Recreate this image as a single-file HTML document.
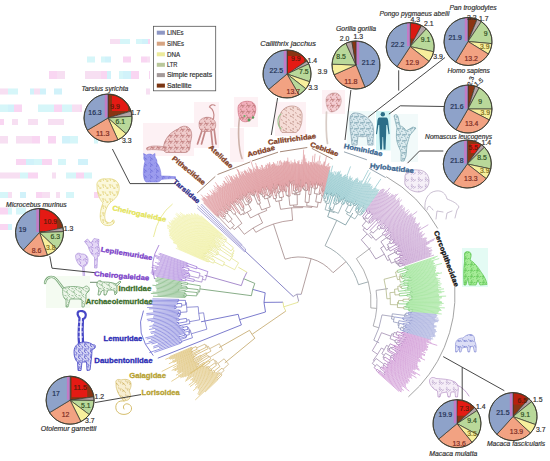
<!DOCTYPE html><html><head><meta charset="utf-8"><style>html,body{margin:0;padding:0;background:#fff;overflow:hidden;}svg{display:block;font-family:"Liberation Sans",sans-serif;}</style></head><body><svg width="550" height="461" viewBox="0 0 550 461" font-family="Liberation Sans, sans-serif">
<rect width="550" height="461" fill="#fff"/>
<g opacity="0.8"><rect x="110" y="39" width="10" height="5" fill="#f6d8f0"/><rect x="120" y="39" width="10" height="5" fill="#ccf4f8"/><rect x="136" y="39" width="6" height="5" fill="#ccf4f8"/><rect x="142" y="39" width="6" height="5" fill="#c6f0fa"/><rect x="148" y="39" width="2" height="5" fill="#f8ccf0"/><rect x="87" y="56.5" width="8" height="6.0" fill="#ccf4f8"/><rect x="101" y="56.5" width="4" height="6.0" fill="#ccf4f8"/><rect x="105" y="56.5" width="6" height="6.0" fill="#c6f0fa"/><rect x="123" y="56.5" width="8" height="6.0" fill="#f8ccf0"/><rect x="141" y="56.5" width="6" height="6.0" fill="#f8ccf0"/><rect x="147" y="56.5" width="3" height="6.0" fill="#f6d8f0"/><rect x="49" y="71" width="8" height="8" fill="#f8ccf0"/><rect x="57" y="71" width="8" height="8" fill="#f6d8f0"/><rect x="85" y="71" width="8" height="8" fill="#f6d8f0"/><rect x="93" y="71" width="8" height="8" fill="#f6d8f0"/><rect x="101" y="71" width="6" height="8" fill="#f8ccf0"/><rect x="107" y="71" width="4" height="8" fill="#c6f0fa"/><rect x="119" y="71" width="4" height="8" fill="#ccf4f8"/><rect x="123" y="71" width="8" height="8" fill="#c6f0fa"/><rect x="131" y="71" width="8" height="8" fill="#f8ccf0"/><rect x="149" y="71" width="1" height="8" fill="#f8ccf0"/><rect x="0" y="88.5" width="8" height="6.0" fill="#f6d8f0"/><rect x="8" y="88.5" width="10" height="6.0" fill="#ccf4f8"/><rect x="30" y="88.5" width="4" height="6.0" fill="#c6f0fa"/><rect x="34" y="88.5" width="6" height="6.0" fill="#f6d8f0"/><rect x="40" y="88.5" width="6" height="6.0" fill="#c6f0fa"/><rect x="54" y="88.5" width="8" height="6.0" fill="#c6f0fa"/><rect x="146" y="88.5" width="4" height="6.0" fill="#f6d8f0"/><rect x="0" y="104.5" width="8" height="7.5" fill="#ccf4f8"/><rect x="8" y="104.5" width="6" height="7.5" fill="#c6f0fa"/><rect x="14" y="104.5" width="8" height="7.5" fill="#f8ccf0"/><rect x="38" y="104.5" width="8" height="7.5" fill="#ccf4f8"/><rect x="46" y="104.5" width="8" height="7.5" fill="#ccf4f8"/><rect x="54" y="104.5" width="8" height="7.5" fill="#f8ccf0"/><rect x="62" y="104.5" width="10" height="7.5" fill="#ccf4f8"/><rect x="72" y="104.5" width="8" height="7.5" fill="#f6d8f0"/><rect x="80" y="104.5" width="2" height="7.5" fill="#f8ccf0"/><rect x="0" y="119" width="4" height="6" fill="#f8ccf0"/><rect x="12" y="119" width="6" height="6" fill="#f6d8f0"/><rect x="28" y="119" width="10" height="6" fill="#f6d8f0"/><rect x="48" y="119" width="8" height="6" fill="#f6d8f0"/><rect x="56" y="119" width="8" height="6" fill="#f6d8f0"/><rect x="0" y="136" width="8" height="7.5" fill="#f6d8f0"/><rect x="16" y="136" width="8" height="7.5" fill="#f6d8f0"/><rect x="24" y="136" width="8" height="7.5" fill="#f6d8f0"/><rect x="32" y="136" width="8" height="7.5" fill="#f8ccf0"/><rect x="48" y="136" width="8" height="7.5" fill="#f8ccf0"/><rect x="62" y="136" width="8" height="7.5" fill="#c6f0fa"/><rect x="70" y="136" width="8" height="7.5" fill="#ccf4f8"/><rect x="94" y="136" width="4" height="7.5" fill="#ccf4f8"/><rect x="16" y="159" width="6" height="6" fill="#f8ccf0"/><rect x="22" y="159" width="4" height="6" fill="#f8ccf0"/><rect x="26" y="159" width="8" height="6" fill="#c6f0fa"/><rect x="34" y="159" width="8" height="6" fill="#ccf4f8"/><rect x="42" y="159" width="10" height="6" fill="#f8ccf0"/><rect x="58" y="159" width="8" height="6" fill="#ccf4f8"/><rect x="78" y="159" width="10" height="6" fill="#c6f0fa"/><rect x="0" y="172.5" width="4" height="6.0" fill="#f6d8f0"/><rect x="4" y="172.5" width="10" height="6.0" fill="#f6d8f0"/><rect x="14" y="172.5" width="6" height="6.0" fill="#f6d8f0"/><rect x="20" y="172.5" width="8" height="6.0" fill="#ccf4f8"/><rect x="28" y="172.5" width="10" height="6.0" fill="#f8ccf0"/><rect x="52" y="172.5" width="4" height="6.0" fill="#f6d8f0"/><rect x="66" y="172.5" width="10" height="6.0" fill="#ccf4f8"/><rect x="76" y="172.5" width="8" height="6.0" fill="#f8ccf0"/><rect x="84" y="172.5" width="8" height="6.0" fill="#ccf4f8"/><rect x="0" y="192" width="8" height="6" fill="#ccf4f8"/><rect x="8" y="192" width="4" height="6" fill="#f6d8f0"/><rect x="20" y="192" width="6" height="6" fill="#c6f0fa"/><rect x="36" y="192" width="6" height="6" fill="#f8ccf0"/><rect x="42" y="192" width="8" height="6" fill="#f6d8f0"/><rect x="56" y="192" width="4" height="6" fill="#f6d8f0"/><rect x="66" y="192" width="8" height="6" fill="#ccf4f8"/><rect x="94" y="192" width="4" height="6" fill="#f8ccf0"/><rect x="98" y="192" width="8" height="6" fill="#f6d8f0"/><rect x="106" y="192" width="4" height="6" fill="#c6f0fa"/><rect x="0" y="207.5" width="8" height="7.0" fill="#f8ccf0"/><rect x="8" y="207.5" width="4" height="7.0" fill="#ccf4f8"/><rect x="16" y="207.5" width="10" height="7.0" fill="#ccf4f8"/><rect x="0" y="224" width="8" height="6" fill="#f8ccf0"/><rect x="8" y="224" width="4" height="6" fill="#c6f0fa"/></g>
<defs><pattern id="pPink" width="6" height="6" patternUnits="userSpaceOnUse"><path d="M2.7,3.4l2.1,-0.2M3,3.5l-1.6,0.1M3.8,4.8l-2,-1M0.5,4.9l1,-2.3M5.9,5.8l0.8,0.6M0.9,0.1l0.1,-2.2M1.1,1.5l-2.3,-0.2M2.6,5.1l0.1,0.7" stroke="#bd7a7a" stroke-width="0.7" fill="none" stroke-linecap="round"/></pattern><pattern id="pBrown" width="7" height="7" patternUnits="userSpaceOnUse"><path d="M3.5,4.6l-0.2,-1.1M7,7l1.7,1M2.2,1.6l-1.1,-2.1M5.4,2.8l1.7,-0.6M6.7,5.9l-2.5,-1.5M6.4,3.3l2.4,-0.5" stroke="#b98a80" stroke-width="0.6" fill="none" stroke-linecap="round"/></pattern><pattern id="pBlue" width="6" height="6" patternUnits="userSpaceOnUse"><path d="M0.4,3.8l1.4,-1.2M0.5,2l2.3,1.3M0.7,1.5l-2,-2.2M4.8,1.1l0.3,-0.3M1.1,4.4l-1.8,0.7" stroke="#6f6fd8" stroke-width="0.7" fill="none" stroke-linecap="round"/></pattern><pattern id="pTeal" width="6" height="6" patternUnits="userSpaceOnUse"><path d="M0.7,2.5l-1.4,-1.2M5.8,4.8l-1,1.9M1.3,2.4l1.8,0.7M0.6,5.9l-1.4,-1.2M4.6,2l-1,-2.1M0.5,3.5l-1.3,0.5M2.2,2.7l2.3,-0.1M3.4,5.2l-1.6,-1.7" stroke="#6f98a8" stroke-width="0.6" fill="none" stroke-linecap="round"/></pattern><pattern id="pLav" width="7" height="7" patternUnits="userSpaceOnUse"><path d="M6.4,5.7l-1.3,-1.6M5.2,6.6l-1.5,2.3M6.2,4.2l-0.4,-2M0.3,6.7l-1.3,1M1.8,5.8l0.5,-1M1.2,5l-2.2,-1.4" stroke="#a58cbc" stroke-width="0.6" fill="none" stroke-linecap="round"/></pattern><pattern id="pGreen" width="6" height="6" patternUnits="userSpaceOnUse"><path d="M3.4,5.1l0.6,-1.1M5.5,1.2l-2.4,-1.2M2.7,0.4l-1.6,-0.7M3.4,0.8l-0.7,2M5.9,3.9l1,0.4M0.8,0.2l-2.4,2.1M4.2,5.8l-2.4,0.7" stroke="#55c04a" stroke-width="0.7" fill="none" stroke-linecap="round"/></pattern><pattern id="pPeri" width="6" height="6" patternUnits="userSpaceOnUse"><path d="M2.9,4.4l-0.9,2.5M0.5,3.3l1.2,2M4.4,4.2l1.5,2.1M2.1,4.1l2,1.9M2.5,4.7l1.8,0.4" stroke="#7c84d2" stroke-width="0.6" fill="none" stroke-linecap="round"/></pattern><pattern id="pYel" width="7" height="7" patternUnits="userSpaceOnUse"><path d="M4.4,2.7l0.4,0.5M0.6,4.5l2.5,1.9M5.1,2.7l1.2,0.4M3.1,5.9l-2.1,1.3M0.2,4.2l-0.1,-1.3M4.9,3.5l0.6,2.1" stroke="#dcc860" stroke-width="0.6" fill="none" stroke-linecap="round"/></pattern><pattern id="pPur" width="6" height="6" patternUnits="userSpaceOnUse"><path d="M1.5,0.1l-1,0.9M1.2,1l2,0.8M2.7,5.4l-0.9,0.8M1.2,2.6l1.5,2.1M5.3,2.3l0.4,-0.9" stroke="#9c78d4" stroke-width="0.6" fill="none" stroke-linecap="round"/></pattern><pattern id="pGrn2" width="7" height="7" patternUnits="userSpaceOnUse"><path d="M1,3.5l1.7,1.7M5,6.7l-1.1,-1.7M3.2,1.9l-1.4,-0.4M4.4,3.5l-0.9,1.7M6.9,3.2l-2.1,-2.3M6.1,0.3l1,0.4" stroke="#5f9a5f" stroke-width="0.6" fill="none" stroke-linecap="round"/></pattern><pattern id="pInd" width="6" height="6" patternUnits="userSpaceOnUse"><path d="M1.9,4.7l-2.4,-1.8M2.7,0.1l1.6,-1.3M0.8,0.3l0.6,-0.3M3.8,3.9l1.5,2.3M4.1,1.2l-0.1,-1.6M0.1,2.8l1.1,-1.6M1.6,2.1l1,0.1" stroke="#3c3cc0" stroke-width="0.7" fill="none" stroke-linecap="round"/></pattern><pattern id="pTan" width="7" height="7" patternUnits="userSpaceOnUse"><path d="M4.3,5.3l-0.5,1.5M6.3,0.6l2.2,1.1M0.9,3.2l0.6,2M2.6,4l1.9,1.5M6.6,3.2l0.8,-1.5M5.1,5.7l0.7,1.1" stroke="#c8a850" stroke-width="0.6" fill="none" stroke-linecap="round"/></pattern></defs>
<rect x="143" y="123" width="51" height="33" fill="#fdf1f4"/>
<rect x="194" y="102" width="25" height="46" fill="#fdf1f4"/>
<rect x="234" y="97" width="24" height="30" fill="#fdf1f4"/>
<rect x="275" y="102" width="31" height="34" fill="#fdf1f4"/>
<rect x="322" y="90" width="23" height="24" fill="#fdf1f4"/>
<rect x="230" y="128" width="14" height="34" fill="#fdf1f4"/>
<path d="M144,156 L143.5,153.5 L146.5,155 C148,153.8 151,153.8 152.5,155 L155,153.5 L155,157 C156.5,159 157,161 157,163 C159.5,166 161,171 161,176 C166,176 171,176.3 175.5,176.8 L175.5,178.6 C170,178.6 165,179 161,179.6 C160.5,181 159,182 157,182 L146,182 C144,180 143,176 143.5,170 C143.8,166 144.5,163 145,161 C143.5,159.5 143.5,158 144,156 Z" fill="#9c9cee" opacity="1"/>
<path d="M144,156 L143.5,153.5 L146.5,155 C148,153.8 151,153.8 152.5,155 L155,153.5 L155,157 C156.5,159 157,161 157,163 C159.5,166 161,171 161,176 C166,176 171,176.3 175.5,176.8 L175.5,178.6 C170,178.6 165,179 161,179.6 C160.5,181 159,182 157,182 L146,182 C144,180 143,176 143.5,170 C143.8,166 144.5,163 145,161 C143.5,159.5 143.5,158 144,156 Z" fill="url(#pBlue)"/>
<path d="M144,156 L143.5,153.5 L146.5,155 C148,153.8 151,153.8 152.5,155 L155,153.5 L155,157 C156.5,159 157,161 157,163 C159.5,166 161,171 161,176 C166,176 171,176.3 175.5,176.8 L175.5,178.6 C170,178.6 165,179 161,179.6 C160.5,181 159,182 157,182 L146,182 C144,180 143,176 143.5,170 C143.8,166 144.5,163 145,161 C143.5,159.5 143.5,158 144,156 Z" fill="none" stroke="#7e7ee0" stroke-width="0.6"/>
<path d="M164,151 C162,143 168,133 178,129 C182,125 189,125 191,131 C193,137 190,141 190,146 C190,150 188,152.5 185,152.5 L166,152.5 Z" fill="#f0cccc" opacity="1"/>
<path d="M164,151 C162,143 168,133 178,129 C182,125 189,125 191,131 C193,137 190,141 190,146 C190,150 188,152.5 185,152.5 L166,152.5 Z" fill="url(#pPink)"/>
<path d="M164,151 C162,143 168,133 178,129 C182,125 189,125 191,131 C193,137 190,141 190,146 C190,150 188,152.5 185,152.5 L166,152.5 Z" fill="none" stroke="#b87c7c" stroke-width="0.7"/>
<path d="M166,147 C159,146 151,145 146.5,148 L147,150 C153,149 159,150 166,150.5 Z" fill="#f0cccc" opacity="1"/>
<path d="M166,147 C159,146 151,145 146.5,148 L147,150 C153,149 159,150 166,150.5 Z" fill="url(#pPink)"/>
<path d="M166,147 C159,146 151,145 146.5,148 L147,150 C153,149 159,150 166,150.5 Z" fill="none" stroke="#b87c7c" stroke-width="0.6"/>
<path d="M202.5,129 L197.5,144 M205.5,130 L201.5,144 M211,130.5 L212.5,145 M214,128 L216,144" fill="none" stroke="#c48888" stroke-width="1.7" stroke-linecap="round"/>
<path d="M199,124 C199,118.5 205,116.5 210,117.5 C214,118.5 216.5,122 215.5,127 C214.5,130.5 211,131.5 208,131.5 L203,131.5 C200,130.5 199,127.5 199,124 Z" fill="#f0cccc" opacity="1"/>
<path d="M199,124 C199,118.5 205,116.5 210,117.5 C214,118.5 216.5,122 215.5,127 C214.5,130.5 211,131.5 208,131.5 L203,131.5 C200,130.5 199,127.5 199,124 Z" fill="url(#pPink)"/>
<path d="M199,124 C199,118.5 205,116.5 210,117.5 C214,118.5 216.5,122 215.5,127 C214.5,130.5 211,131.5 208,131.5 L203,131.5 C200,130.5 199,127.5 199,124 Z" fill="none" stroke="#b87c7c" stroke-width="0.6"/>
<path d="M213.5,119 C215,114 213,109 209.5,107 C210,105 213,104 215,105.5" fill="none" stroke="#c58989" stroke-width="1.2" stroke-linecap="round"/>
<path d="M239.5,118 C238,128 238,148 242,158.5" fill="none" stroke="#cdb2aa" stroke-width="1.6" stroke-linecap="round"/>
<path d="M238,108 C238,102 246,100 252,102 C256,104 257,110 254,116 C251,121 246,123 242,121 C239,119 238,114 238,108 Z" fill="#f2b0bc" opacity="1"/>
<path d="M238,108 C238,102 246,100 252,102 C256,104 257,110 254,116 C251,121 246,123 242,121 C239,119 238,114 238,108 Z" fill="url(#pPink)"/>
<path d="M238,108 C238,102 246,100 252,102 C256,104 257,110 254,116 C251,121 246,123 242,121 C239,119 238,114 238,108 Z" fill="none" stroke="#d07484" stroke-width="0.7"/>
<circle cx="249" cy="120" r="1.5" fill="#5a9a5a"/><circle cx="253" cy="117.5" r="1.2" fill="#5a9a5a"/><circle cx="244.5" cy="116" r="1.1" fill="#6ab06a"/>
<path d="M280,118 C279,112 285,106 292,106 C299,106 303,111 302,118 C302,124 300,130 296,132.5 L282,132.5 C279,129 279,124 280,118 Z" fill="#f5dcd6" opacity="1"/>
<path d="M280,118 C279,112 285,106 292,106 C299,106 303,111 302,118 C302,124 300,130 296,132.5 L282,132.5 C279,129 279,124 280,118 Z" fill="url(#pBrown)"/>
<path d="M280,118 C279,112 285,106 292,106 C299,106 303,111 302,118 C302,124 300,130 296,132.5 L282,132.5 C279,129 279,124 280,118 Z" fill="none" stroke="#bb8c84" stroke-width="0.7"/>
<path d="M281,114 C277,117 277,125 281,129" fill="none" stroke="#9cc08c" stroke-width="1.1" stroke-linecap="round"/>
<path d="M326.5,112 C326,124 326,135 327.5,143.5" fill="none" stroke="#d8ccc6" stroke-width="1.7" stroke-linecap="round"/>
<path d="M326,100 C326,95 331,92.5 336,93 C340,94 342,98 341,103 C340,108 336,112 331,112 C328,111 326,106 326,100 Z" fill="#f4cdd2" opacity="1"/>
<path d="M326,100 C326,95 331,92.5 336,93 C340,94 342,98 341,103 C340,108 336,112 331,112 C328,111 326,106 326,100 Z" fill="url(#pPink)"/>
<path d="M326,100 C326,95 331,92.5 336,93 C340,94 342,98 341,103 C340,108 336,112 331,112 C328,111 326,106 326,100 Z" fill="none" stroke="#c8a0a0" stroke-width="0.6"/>
<rect x="347" y="111" width="28" height="35" fill="#f0fafa"/>
<path d="M350,122 C349,116 352,112 356,113 C361,113 368,117 372,123 C374,128 374,134 373,140 L373,145 L368,145 L367,136 C364,137 361,137 358,136 L357,145 L352,145 L351,135 C350,131 350,127 350,122 Z" fill="#d8e8ee" opacity="1"/>
<path d="M350,122 C349,116 352,112 356,113 C361,113 368,117 372,123 C374,128 374,134 373,140 L373,145 L368,145 L367,136 C364,137 361,137 358,136 L357,145 L352,145 L351,135 C350,131 350,127 350,122 Z" fill="url(#pTeal)"/>
<path d="M350,122 C349,116 352,112 356,113 C361,113 368,117 372,123 C374,128 374,134 373,140 L373,145 L368,145 L367,136 C364,137 361,137 358,136 L357,145 L352,145 L351,135 C350,131 350,127 350,122 Z" fill="none" stroke="#86a2b2" stroke-width="0.7"/>
<rect x="376" y="111" width="14.6" height="39.5" fill="#d4f6f6"/>
<circle cx="382.8" cy="114.2" r="2.2" fill="#2b6e88"/>
<path d="M379.2,117.6 L386.4,117.6 C387.8,118 388.2,120 388.4,123 L389.6,134 L388.6,134.3 L387.2,125 L386.3,125 L386.1,135.5 L385.5,149.5 L383.6,149.5 L383.1,137 L382.5,137 L382,149.5 L380.1,149.5 L379.5,135.5 L379.3,125 L378.4,125 L377,134.3 L376,134 L377.2,123 C377.4,120 377.8,118 379.2,117.6 Z" fill="#2b6e88"/>
<rect x="391" y="114" width="27" height="48" fill="#f2fafa"/>
<path d="M394,116 C395,114 397,114 398,117 L400,126 C402,126 405,128 406,131 L413,127 L416,128 L410,135 C409,138 408,141 407,145 L406,156 L404,161 L401,161 L401,152 L398,145 C396,140 396,134 397,128 Z" fill="#dcecef" opacity="1"/>
<path d="M394,116 C395,114 397,114 398,117 L400,126 C402,126 405,128 406,131 L413,127 L416,128 L410,135 C409,138 408,141 407,145 L406,156 L404,161 L401,161 L401,152 L398,145 C396,140 396,134 397,128 Z" fill="url(#pTeal)"/>
<path d="M394,116 C395,114 397,114 398,117 L400,126 C402,126 405,128 406,131 L413,127 L416,128 L410,135 C409,138 408,141 407,145 L406,156 L404,161 L401,161 L401,152 L398,145 C396,140 396,134 397,128 Z" fill="none" stroke="#79a3ad" stroke-width="0.7"/>
<path d="M405,178 C404,172 411,169 418,170 C425,170 429,175 429,181 C429,187 425,191 419,192 C414,192 409,190 406,186 C404,184 405,181 405,178 Z" fill="#f6f0f8" opacity="1"/>
<path d="M405,178 C404,172 411,169 418,170 C425,170 429,175 429,181 C429,187 425,191 419,192 C414,192 409,190 406,186 C404,184 405,181 405,178 Z" fill="url(#pLav)"/>
<path d="M405,178 C404,172 411,169 418,170 C425,170 429,175 429,181 C429,187 425,191 419,192 C414,192 409,190 406,186 C404,184 405,181 405,178 Z" fill="none" stroke="#b49cc2" stroke-width="0.7"/>
<path d="M425,209 C424,200 428,192 436,191 C442,190 446,194 447,199 C452,201 457,203 459,207 L457,210 L455,218 M452,211 L447,213 L446,219 M443,212 L437,211 L436,219 M433,210 C430,206 428,204 427,210" fill="none" stroke="#bdb0c6" stroke-width="0.8" stroke-linecap="round"/>
<rect x="462" y="248" width="26" height="39" fill="#e4fbf4"/>
<path d="M464.5,254 C464.5,251 470,250.5 471,254 C471.5,256 470.5,258 470,260 C474,262 478,267 481,272 C484,276 486.5,280 487,284.5 L480,285 L478,280 L476,285 L469,285 L468,278 L466,285 L464,285 C463.5,278 463.5,268 464.5,262 Z" fill="#a6ec98" opacity="1"/>
<path d="M464.5,254 C464.5,251 470,250.5 471,254 C471.5,256 470.5,258 470,260 C474,262 478,267 481,272 C484,276 486.5,280 487,284.5 L480,285 L478,280 L476,285 L469,285 L468,278 L466,285 L464,285 C463.5,278 463.5,268 464.5,262 Z" fill="url(#pGreen)"/>
<path d="M464.5,254 C464.5,251 470,250.5 471,254 C471.5,256 470.5,258 470,260 C474,262 478,267 481,272 C484,276 486.5,280 487,284.5 L480,285 L478,280 L476,285 L469,285 L468,278 L466,285 L464,285 C463.5,278 463.5,268 464.5,262 Z" fill="none" stroke="#5cc450" stroke-width="0.7"/>
<path d="M455.5,346 C455,341 458,338 463,338 C465,336 468,334 471,334.5 C474,335 475,338 474.5,341 C476,343 476.5,347 476,352 L474.5,352 L473,346 L470.5,347 L469.5,352 L468,352 L467,347 L462,348 L461,352 L459.5,352 L459.5,348 L457,352 L455.5,352 Z" fill="#dcdef6" opacity="1"/>
<path d="M455.5,346 C455,341 458,338 463,338 C465,336 468,334 471,334.5 C474,335 475,338 474.5,341 C476,343 476.5,347 476,352 L474.5,352 L473,346 L470.5,347 L469.5,352 L468,352 L467,347 L462,348 L461,352 L459.5,352 L459.5,348 L457,352 L455.5,352 Z" fill="url(#pPeri)"/>
<path d="M455.5,346 C455,341 458,338 463,338 C465,336 468,334 471,334.5 C474,335 475,338 474.5,341 C476,343 476.5,347 476,352 L474.5,352 L473,346 L470.5,347 L469.5,352 L468,352 L467,347 L462,348 L461,352 L459.5,352 L459.5,348 L457,352 L455.5,352 Z" fill="none" stroke="#9096d8" stroke-width="0.7"/>
<path d="M429.5,381 C429.5,377.5 433,376.5 436,378.5 C442,379 450,379 455,382 C458,384 459,388 458,392 L457.5,397 L455.5,397 L455,392 L451,392 L450,397 L448,397 L447,392 L441,393 L440,397 L438,397 L437.5,391 C433,389 429.5,385 429.5,381 Z" fill="#f6eef8" opacity="1"/>
<path d="M429.5,381 C429.5,377.5 433,376.5 436,378.5 C442,379 450,379 455,382 C458,384 459,388 458,392 L457.5,397 L455.5,397 L455,392 L451,392 L450,397 L448,397 L447,392 L441,393 L440,397 L438,397 L437.5,391 C433,389 429.5,385 429.5,381 Z" fill="url(#pLav)"/>
<path d="M429.5,381 C429.5,377.5 433,376.5 436,378.5 C442,379 450,379 455,382 C458,384 459,388 458,392 L457.5,397 L455.5,397 L455,392 L451,392 L450,397 L448,397 L447,392 L441,393 L440,397 L438,397 L437.5,391 C433,389 429.5,385 429.5,381 Z" fill="none" stroke="#b996c8" stroke-width="0.7"/>
<path d="M457,385 C462,387 466,391 469,396" fill="none" stroke="#b996c8" stroke-width="0.9" stroke-linecap="round"/>
<path d="M97,186 C96,181 101,178 106,179 C112,178 118,180 119,186 C120,192 117,198 112,201 L109,204 C106,208 104,214 105,219 C106,223 111,224 112,221 C113,219 115,220 114,223 C112,226 105,227 102,223 C99,219 100,210 103,203 C99,199 97,192 97,186 Z" fill="#fbf8dc" opacity="1"/>
<path d="M97,186 C96,181 101,178 106,179 C112,178 118,180 119,186 C120,192 117,198 112,201 L109,204 C106,208 104,214 105,219 C106,223 111,224 112,221 C113,219 115,220 114,223 C112,226 105,227 102,223 C99,219 100,210 103,203 C99,199 97,192 97,186 Z" fill="url(#pYel)"/>
<path d="M97,186 C96,181 101,178 106,179 C112,178 118,180 119,186 C120,192 117,198 112,201 L109,204 C106,208 104,214 105,219 C106,223 111,224 112,221 C113,219 115,220 114,223 C112,226 105,227 102,223 C99,219 100,210 103,203 C99,199 97,192 97,186 Z" fill="none" stroke="#e0d272" stroke-width="0.7"/>
<path d="M84.5,241.5 L87.5,239 L91,243 L94,238.5 L99,239.5 L98.5,245 L100,251 L99,256 L97.5,256.5 L97,268 L94.5,268 L94.5,257 C91.5,255 89,250 88,246 Z" fill="#e4d8f6" opacity="1"/>
<path d="M84.5,241.5 L87.5,239 L91,243 L94,238.5 L99,239.5 L98.5,245 L100,251 L99,256 L97.5,256.5 L97,268 L94.5,268 L94.5,257 C91.5,255 89,250 88,246 Z" fill="url(#pPur)"/>
<path d="M84.5,241.5 L87.5,239 L91,243 L94,238.5 L99,239.5 L98.5,245 L100,251 L99,256 L97.5,256.5 L97,268 L94.5,268 L94.5,257 C91.5,255 89,250 88,246 Z" fill="none" stroke="#a88ad8" stroke-width="0.6"/>
<path d="M75.5,256 C76,253 79,252.5 81,254 C84,253.5 87.5,255 88,259 C88.5,263 86.5,266 84,266.5 L85,281 L83.5,281 L82.5,267 C79,266 77,262 76,259 Z" fill="#e6daf6" opacity="1"/>
<path d="M75.5,256 C76,253 79,252.5 81,254 C84,253.5 87.5,255 88,259 C88.5,263 86.5,266 84,266.5 L85,281 L83.5,281 L82.5,267 C79,266 77,262 76,259 Z" fill="url(#pPur)"/>
<path d="M75.5,256 C76,253 79,252.5 81,254 C84,253.5 87.5,255 88,259 C88.5,263 86.5,266 84,266.5 L85,281 L83.5,281 L82.5,267 C79,266 77,262 76,259 Z" fill="none" stroke="#a88ad8" stroke-width="0.6"/>
<path d="M75.9,282.3 L98.7,282.3" fill="none" stroke="#5f7f5f" stroke-width="0.9" stroke-linecap="round"/>
<rect x="46" y="276" width="44" height="32" fill="#f4fbf1"/>
<path d="M45,283 C46,277 52,275 56,279 C59,282 61,286 64,289" fill="none" stroke="#79a879" stroke-width="2.4" stroke-linecap="round"/>
<path d="M45,283 C46,277 52,275 56,279 C59,282 61,286 64,289" fill="none" stroke="#f4fbf1" stroke-width="0.9" stroke-linecap="round"/>
<path d="M63,288 C68,286 78,286 83,288 L86,286 C88,286 90,288 89,291 L86,294 L86,299 L84,307 L82,307 L82,300 L79,299 L70,299 L68,307 L66,307 L66,300 C63,298 62,293 63,288 Z" fill="#eef6ea" opacity="1"/>
<path d="M63,288 C68,286 78,286 83,288 L86,286 C88,286 90,288 89,291 L86,294 L86,299 L84,307 L82,307 L82,300 L79,299 L70,299 L68,307 L66,307 L66,300 C63,298 62,293 63,288 Z" fill="url(#pGrn2)"/>
<path d="M63,288 C68,286 78,286 83,288 L86,286 C88,286 90,288 89,291 L86,294 L86,299 L84,307 L82,307 L82,300 L79,299 L70,299 L68,307 L66,307 L66,300 C63,298 62,293 63,288 Z" fill="none" stroke="#79a879" stroke-width="0.8"/>
<path d="M97,283 C98,280 101,280 102,282 C106,282 112,282 116,284 L120,281 L121,282 L117,286 L117,293 L115,295 L114,290 L108,290 L106,295 L104,295 L104,290 C102,290 101,292 100,295 L98,295 L99,288 C97,287 96.5,285 97,283 Z" fill="#eef6ea" opacity="1"/>
<path d="M97,283 C98,280 101,280 102,282 C106,282 112,282 116,284 L120,281 L121,282 L117,286 L117,293 L115,295 L114,290 L108,290 L106,295 L104,295 L104,290 C102,290 101,292 100,295 L98,295 L99,288 C97,287 96.5,285 97,283 Z" fill="url(#pGrn2)"/>
<path d="M97,283 C98,280 101,280 102,282 C106,282 112,282 116,284 L120,281 L121,282 L117,286 L117,293 L115,295 L114,290 L108,290 L106,295 L104,295 L104,290 C102,290 101,292 100,295 L98,295 L99,288 C97,287 96.5,285 97,283 Z" fill="none" stroke="#6f9f6f" stroke-width="0.8"/>
<path d="M79,343 C78,335 79,325 79.5,318 C78,316 77,313 78.5,311.5 C80.5,310.5 84.5,311 85.5,313.5 C86.5,316 85,318.5 83,319 C82.5,326 82.5,335 83,342" fill="none" stroke="#4646c6" stroke-width="2.2" stroke-linecap="round"/>
<path d="M78.8,322 l3.6,0 M78.6,327 l3.8,0 M78.6,332 l3.9,0 M78.8,337 l3.8,0" fill="none" stroke="#ffffff" stroke-width="0.9" stroke-linecap="round"/>
<path d="M74,352 C74,346 78,342 84,342 C88,342 91,343 93,345 C95,344 96,346 95,348 L92,350 C92,355 91,362 90,370 L87,370.5 L86.5,362 L82,362 L81,370.5 L78,370.5 L77.5,362 C75,360 74,356 74,352 Z" fill="#d4d4f4" opacity="1"/>
<path d="M74,352 C74,346 78,342 84,342 C88,342 91,343 93,345 C95,344 96,346 95,348 L92,350 C92,355 91,362 90,370 L87,370.5 L86.5,362 L82,362 L81,370.5 L78,370.5 L77.5,362 C75,360 74,356 74,352 Z" fill="url(#pInd)"/>
<path d="M74,352 C74,346 78,342 84,342 C88,342 91,343 93,345 C95,344 96,346 95,348 L92,350 C92,355 91,362 90,370 L87,370.5 L86.5,362 L82,362 L81,370.5 L78,370.5 L77.5,362 C75,360 74,356 74,352 Z" fill="none" stroke="#4646c6" stroke-width="0.8"/>
<path d="M116,383 C115,380 118,378.5 121,380 C124,379 128,379 130,381 C132,384 131,388 129,391 C131,394 131,398 128,400 L124,401 C121,398 118,394 117,390 C116,388 116,385 116,383 Z" fill="#f8efd2" opacity="1"/>
<path d="M116,383 C115,380 118,378.5 121,380 C124,379 128,379 130,381 C132,384 131,388 129,391 C131,394 131,398 128,400 L124,401 C121,398 118,394 117,390 C116,388 116,385 116,383 Z" fill="url(#pTan)"/>
<path d="M116,383 C115,380 118,378.5 121,380 C124,379 128,379 130,381 C132,384 131,388 129,391 C131,394 131,398 128,400 L124,401 C121,398 118,394 117,390 C116,388 116,385 116,383 Z" fill="none" stroke="#d6be6c" stroke-width="0.7"/>
<path d="M124,401 C118,400 115,404 116,409 C117,414 124,416 129,413 C133,410 132,405 128,404 C125,403 122,406 124,409" fill="none" stroke="#d6be6c" stroke-width="1.0" stroke-linecap="round"/>
<path d="M203.9 364.5L185.2 376.8M203.5 363.9L182.7 377.4M196.9 367.3L180.5 377.8M196.5 366.6L179.9 377.1M198.2 364.7L171.4 381.4M197.8 364L178 376.2M198.3 362.9L182.4 372.5M196.1 363.3L176 375.3M195.7 362.7L178.3 372.9M201.3 358.6L177.5 372.4M194.1 361.9L177.1 371.6M193.7 361.2L177.8 370.2M201.1 356.2L174.9 370.8M193.6 359.6L173.7 370.5M193.3 358.9L171.7 370.5M193.8 357.8L177 366.7M193.4 357.1L173.3 367.6M194 356L177.5 364.5M195.6 354.3L161.7 371.5M191.9 355.4L176.9 362.8M191.5 354.7L176.5 362.1M199.2 350.1L173.5 362.5M191.9 352.9L168.9 363.8M191.6 352.2L172.1 361.3M191.3 351.5L175 359M191 350.8L172.2 359.3M191.8 349.7L170 359.3M191.5 349L168.9 358.8M191.2 348.3L165.4 359.4M190.9 347.6L169.7 356.6M217.9 379.7L205 392.1M217.4 379.1L195.3 399.9M217.8 377.6L198.9 395.2M217.2 377L198 394.6M219.8 373.6L197.5 393.7M218.1 374L198.5 391.5M217.5 373.4L198.9 389.8M216.4 373.3L197.8 389.4M215.9 372.7L197.7 388.2M214.4 372.9L193.2 390.7M213.1 373L195.4 387.6M212.6 372.3L197.4 384.7M213.6 370.4L195 385.4M211.6 371L196 383.3M210.3 371L190 386.7M209.8 370.3L194.3 382.2M210.9 368.5L188.8 385.1M209 368.9L192.3 381.2M208.5 368.2L191.9 380.3M208 367.5L190.2 380.3M206.7 367.4L192.9 377.2M206.2 366.7L185.2 381.4M204.2 367.1L185.7 379.8M202.9 366.9L187 377.7M202.4 366.2L187.9 375.9M208.8 361L189.7 373.6" fill="none" stroke="#d8b862" stroke-width="0.65"/>
<path d="M203.9 364.5A113.8 113.8 0 0 1 203.5 363.9M204.5 363.7L203.7 364.2M196.9 367.3A121.2 121.2 0 0 1 196.5 366.6M203.8 362.5L196.7 367M204.5 363.7A112.8 112.8 0 0 1 203.8 362.5M210.8 358.8L204.1 363.1M198.2 364.7A118.7 118.7 0 0 1 197.8 364M198.9 363.8L198 364.4M198.9 363.8A117.7 117.7 0 0 1 198.3 362.9M208.6 357.2L198.6 363.4M196.1 363.3A119.8 119.8 0 0 1 195.7 362.7M201.8 359.5L195.9 363M201.8 359.5A112.9 112.9 0 0 1 201.3 358.6M207.6 355.5L201.6 359.1M194.1 361.9A120.8 120.8 0 0 1 193.7 361.2M207 354.1L193.9 361.6M193.6 359.6A120.1 120.1 0 0 1 193.3 358.9M200.6 355.3L193.4 359.2M201.1 356.2A111.9 111.9 0 0 1 200.6 355.3M206.3 352.8L200.9 355.8M207 354.1A105.8 105.8 0 0 1 206.3 352.8M211 351.1L206.6 353.5M193.8 357.8A119.1 119.1 0 0 1 193.4 357.1M194.5 357L193.6 357.4M194.5 357A118.1 118.1 0 0 1 194 356M196.2 355.5L194.2 356.5M196.2 355.5A115.9 115.9 0 0 1 195.6 354.3M208.2 348.6L195.9 354.9M191.9 355.4A119.7 119.7 0 0 1 191.5 354.7M199.7 351.1L191.7 355M199.7 351.1A110.8 110.8 0 0 1 199.2 350.1M206.4 347.2L199.5 350.6M191.9 352.9A118.6 118.6 0 0 1 191.6 352.2M192.6 352.1L191.7 352.5M191.3 351.5A118.6 118.6 0 0 1 191 350.8M192 350.8L191.1 351.2M192.6 352.1A117.6 117.6 0 0 1 192 350.8M197.2 349.2L192.3 351.4M191.8 349.7A117.3 117.3 0 0 1 191.5 349M192.5 348.9L191.6 349.3M191.2 348.3A117.3 117.3 0 0 1 190.9 347.6M192 347.6L191 348M192.5 348.9A116.3 116.3 0 0 1 192 347.6M196 346.6L192.2 348.2M217.9 379.7A112.3 112.3 0 0 1 217.4 379.1M221.6 375.6L217.6 379.4M217.8 377.6A110.9 110.9 0 0 1 217.2 377M220.5 374.5L217.5 377.3M221.6 375.6A106.8 106.8 0 0 1 220.5 374.5M221.8 374.4L221.1 375M218.1 374A108.4 108.4 0 0 1 217.5 373.4M219 372.7L217.8 373.7M219.8 373.6A106.8 106.8 0 0 1 219 372.7M220.1 372.5L219.4 373.2M216.4 373.3A109.1 109.1 0 0 1 215.9 372.7M222 368.1L216.2 373M213.1 373A111.4 111.4 0 0 1 212.6 372.3M213.6 372L212.8 372.6M214.4 372.9A110.4 110.4 0 0 1 213.6 372M214.8 371.8L214 372.5M214.8 371.8A109.4 109.4 0 0 1 213.6 370.4M220 366.4L214.2 371.1M210.3 371A112.4 112.4 0 0 1 209.8 370.3M210.8 370L210 370.7M211.6 371A111.4 111.4 0 0 1 210.8 370M212 369.9L211.2 370.5M212 369.9A110.4 110.4 0 0 1 210.9 368.5M216.6 365.2L211.4 369.2M209 368.9A112.2 112.2 0 0 1 208.5 368.2M209.5 367.9L208.7 368.5M206.7 367.4A113.2 113.2 0 0 1 206.2 366.7M207.3 366.5L206.4 367.1M208 367.5A112.2 112.2 0 0 1 207.3 366.5M208.4 366.4L207.6 367M209.5 367.9A111.2 111.2 0 0 1 208.4 366.4M214.9 362.9L209 367.2M202.9 366.9A116 116 0 0 1 202.4 366.2M203.5 366L202.7 366.6M204.2 367.1A115 115 0 0 1 203.5 366M209.8 362.5L203.9 366.6M209.8 362.5A107.8 107.8 0 0 1 208.8 361M213.4 359.1L209.3 361.8" fill="none" stroke="#c9a652" stroke-width="0.65"/>
<path d="M208.6 357.2A105.9 105.9 0 0 1 207.6 355.5M209 355.9L208.1 356.4M210.8 358.8A104.9 104.9 0 0 1 209 355.9M222.5 349.5L209.9 357.3M197.2 349.2A112.2 112.2 0 0 1 196 346.6M205 344.1L196.6 347.9M206.4 347.2A103 103 0 0 1 205 344.1M206.6 345.2L205.7 345.7M208.2 348.6A102 102 0 0 1 206.6 345.2M208.5 346.4L207.4 346.9M211 351.1A100.8 100.8 0 0 1 208.5 346.4M219.3 343.7L209.7 348.7M222.5 349.5A90 90 0 0 1 219.3 343.7M221.8 374.4A105.8 105.8 0 0 1 220.1 372.5M224.1 370.5L221 373.4M224.1 370.5A101.5 101.5 0 0 1 222 368.1M228.6 364.3L223 369.3M216.6 365.2A103.9 103.9 0 0 1 214.9 362.9M216.5 363.5L215.7 364.1M216.5 363.5A102.9 102.9 0 0 1 213.4 359.1M215.8 360.7L214.9 361.3M220 366.4A101.9 101.9 0 0 1 215.8 360.7M224.1 358.8L217.9 363.6M228.6 364.3A94 94 0 0 1 224.1 358.8" fill="none" stroke="#c2a466" stroke-width="0.65"/>
<path d="M180.3 343.4L154.4 352.4M179.9 342.3L149.3 352.6M181.3 340.5L158.9 347.8M185.8 337.8L153.2 348.1M185.5 336.7L153.4 346.5M179.6 337.3L157.7 343.8M179.3 336.1L151.5 344M184.5 333.4L145.8 344.1M188.5 331.2L148.6 341.8M184.5 331.1L150.9 339.6M183.3 330.2L146.7 339.1M183 329.1L145.3 337.9M183.4 327.8L154.1 334.4M183.2 326.7L151.1 333.5M180.1 326.2L150.3 332.2M179.9 325L155 329.8M178.6 324.1L149.1 329.5M177.4 323.1L152.2 327.4M177.2 321.9L149.4 326.4M179.1 320.4L152.8 324.4M177.2 319.5L153.9 322.8M177.1 318.3L150.9 321.8M178.9 316.9L147.7 320.8M178.7 315.7L146.9 319.4M177.6 314.7L153 317.2M177.5 313.5L153.6 315.8M178.4 312.2L146.4 315M179.3 311L146.4 313.5M179.2 309.9L153.1 311.6M174.9 308.9L152.9 310.2M174.9 307.7L149.1 308.9M175 306.5L147.1 307.5M175 305.3L152.6 305.9M177.6 304.1L146.4 304.6M177.6 302.9L151.6 303.1M177.6 301.7L150.1 301.7M177.6 300.6L150.2 300.3M178.6 299.4L152.4 298.9" fill="none" stroke="#6464d4" stroke-width="0.65"/>
<path d="M180.3 343.4A125.7 125.7 0 0 1 179.9 342.3M181.9 342.2L180.1 342.8M181.9 342.2A123.9 123.9 0 0 1 181.3 340.5M192.5 337.7L181.6 341.4M185.8 337.8A118.7 118.7 0 0 1 185.5 336.7M186.6 337L185.6 337.3M179.6 337.3A124.5 124.5 0 0 1 179.3 336.1M185 335.1L179.5 336.7M185 335.1A118.7 118.7 0 0 1 184.5 333.4M185.7 334L184.7 334.3M186.6 337A117.7 117.7 0 0 1 185.7 334M189.4 334.5L186.1 335.5M183.3 330.2A119.1 119.1 0 0 1 183 329.1M184.1 329.4L183.2 329.6M184.5 331.1A118.1 118.1 0 0 1 184.1 329.4M188 329.3L184.3 330.2M183.4 327.8A118.4 118.4 0 0 1 183.2 326.7M187.3 326.4L183.3 327.3M188 329.3A114.3 114.3 0 0 1 187.3 326.4M188.6 327.6L187.7 327.9M180.1 326.2A121.3 121.3 0 0 1 179.9 325M189.9 323.6L180 325.6M177.4 323.1A123.4 123.4 0 0 1 177.2 321.9M178.3 322.3L177.3 322.5M178.6 324.1A122.4 122.4 0 0 1 178.3 322.3M187 321.7L178.4 323.2M177.2 319.5A123 123 0 0 1 177.1 318.3M178.8 318.7L177.2 318.9M179.1 320.4A121.3 121.3 0 0 1 178.8 318.7M186.4 318.4L178.9 319.5M178.9 316.9A121 121 0 0 1 178.7 315.7M179.8 316.2L178.8 316.3M177.6 314.7A122 122 0 0 1 177.5 313.5M178.6 314L177.6 314.1M178.6 314A121 121 0 0 1 178.4 312.2M179.5 313L178.5 313.1M179.8 316.2A120 120 0 0 1 179.5 313M180.6 314.5L179.6 314.6M179.3 311A120 120 0 0 1 179.2 309.9M180.3 310.4L179.3 310.4M174.9 308.9A124.2 124.2 0 0 1 174.9 307.7M176.1 308.3L174.9 308.3M175 306.5A124 124 0 0 1 175 305.3M176 305.9L175 305.9M176.1 308.3A123 123 0 0 1 176 305.9M181.7 306.9L176.1 307.1M177.6 304.1A121.4 121.4 0 0 1 177.6 302.9M181.6 303.5L177.6 303.5M177.6 301.7A121.4 121.4 0 0 1 177.6 300.6M178.6 301.2L177.6 301.2M178.6 301.2A120.4 120.4 0 0 1 178.6 299.4M185.5 300.4L178.6 300.3" fill="none" stroke="#4a4ac4" stroke-width="0.65"/>
<path d="M189.4 334.5A114.3 114.3 0 0 1 188.5 331.2M189.9 332.6L188.9 332.9M189.9 332.6A113.3 113.3 0 0 1 188.6 327.6M190.2 329.9L189.2 330.1M192.5 337.7A112.3 112.3 0 0 1 190.2 329.9M206.9 329.2L191.3 333.8M187 321.7A113.8 113.8 0 0 1 186.4 318.4M189.1 319.7L186.7 320.1M189.9 323.6A111.3 111.3 0 0 1 189.1 319.7M199.7 319.8L189.5 321.7M180.6 314.5A119 119 0 0 1 180.3 310.4M187 311.9L180.4 312.4M181.7 306.9A117.4 117.4 0 0 1 181.6 303.5M185.6 305L181.7 305.2M185.6 305A113.5 113.5 0 0 1 185.5 300.4M186.5 302.7L185.5 302.7M187 311.9A112.5 112.5 0 0 1 186.5 302.7M198.2 306.7L186.7 307.3M199.7 319.8A100.9 100.9 0 0 1 198.2 306.7M203.6 312.8L198.7 313.3M206.9 329.2A96 96 0 0 1 203.6 312.8" fill="none" stroke="#5a5ac0" stroke-width="0.65"/>
<path d="M184.9 297.5L153 296.2M183.9 296.4L157.4 295.1M184 295.3L150.9 293.4M184.7 294.3L152.6 292.1M184.8 293.2L156.3 291M185.1 292.2L156.7 289.7M178.9 290.5L156.3 288.3M179 289.4L155.5 286.9M187.1 289.2L152.4 285.2M186.2 288L156.2 284.3M181.5 286.3L158.1 283.2M181.7 285.2L155.6 281.5M181.3 284.1L155.2 280.1M181.4 283L154.1 278.5M187.7 282.9L156.9 277.6" fill="none" stroke="#66a866" stroke-width="0.65"/>
<path d="M183.9 296.4A115.2 115.2 0 0 1 184 295.3M184.9 295.9L183.9 295.8M184.9 297.5A114.2 114.2 0 0 1 184.9 295.9M185.9 296.7L184.9 296.7M184.7 294.3A114.6 114.6 0 0 1 184.8 293.2M186.1 293.8L184.7 293.7M185.9 296.7A113.2 113.2 0 0 1 186.1 293.8M196.7 295.9L186 295.3M178.9 290.5A120.7 120.7 0 0 1 179 289.4M185.3 290.6L178.9 289.9M185.1 292.2A114.3 114.3 0 0 1 185.3 290.6M197 292.5L185.2 291.4M181.5 286.3A118.5 118.5 0 0 1 181.7 285.2M186.4 286.4L181.6 285.8M186.2 288A113.6 113.6 0 0 1 186.4 286.4M187.3 287.4L186.3 287.2M187.1 289.2A112.6 112.6 0 0 1 187.3 287.4M198.3 289.6L187.2 288.3M181.3 284.1A119.1 119.1 0 0 1 181.4 283M187.5 284.5L181.3 283.5M187.5 284.5A112.9 112.9 0 0 1 187.7 282.9M200.3 285.8L187.6 283.7" fill="none" stroke="#559555" stroke-width="0.65"/>
<path d="M196.7 295.9A102.5 102.5 0 0 1 197 292.5M197.8 294.3L196.8 294.2M197.8 294.3A101.5 101.5 0 0 1 198.3 289.6M199.5 292.1L198 291.9M199.5 292.1A100 100 0 0 1 200.3 285.8" fill="none" stroke="#6a986a" stroke-width="0.65"/>
<path d="M181.7 280.9L155.8 276.2M180.9 279.8L151.9 274.4M181.1 278.9L150.6 272.9M186 279L151.1 271.9M185.5 278L151.5 270.8M185.7 277.1L151.8 269.7M189.4 277.1L156 269.5M184.2 275L151.4 267.3M184.4 274.1L154.8 266.9M187 273.9L152.5 265.2M187.3 273L158.9 265.7M188.4 272.4L157 264M184.2 270.4L155.1 262.4M184.4 269.5L158.4 262.1M182.4 268L159.9 261.4M182.7 267.1L158.4 259.8M183.9 266.5L156.2 258M187.9 266.9L154.9 256.4M187.3 265.7L154.9 255.2M187.5 264.9L159.9 255.7M187.2 263.8L158.5 254M187.5 263L159.6 253.2" fill="none" stroke="#a47ad8" stroke-width="0.65"/>
<path d="M180.9 279.8A120.2 120.2 0 0 1 181.1 278.9M182 279.5L181 279.4M181.7 280.9A119.2 119.2 0 0 1 182 279.5M185.6 280.9L181.8 280.2M185.6 280.9A115.3 115.3 0 0 1 186 279M193.8 281.5L185.8 279.9M185.5 278A116 116 0 0 1 185.7 277.1M194.3 279.4L185.6 277.6M184.2 275A118 118 0 0 1 184.4 274.1M188.7 275.6L184.3 274.6M187 273.9A115.4 115.4 0 0 1 187.3 273M188.1 273.7L187.1 273.5M188.1 273.7A114.4 114.4 0 0 1 188.4 272.4M189.2 273.3L188.3 273.1M188.7 275.6A113.4 113.4 0 0 1 189.2 273.3M189.9 274.7L189 274.5M184.2 270.4A119.1 119.1 0 0 1 184.4 269.5M188.4 271.1L184.3 270M182.4 268A121.5 121.5 0 0 1 182.7 267.1M183.5 267.8L182.5 267.6M183.5 267.8A120.5 120.5 0 0 1 183.9 266.5M189.1 268.8L183.7 267.2M188.4 271.1A114.8 114.8 0 0 1 189.1 268.8M200 273.2L188.8 270M187.3 265.7A117.5 117.5 0 0 1 187.5 264.9M188.3 265.6L187.4 265.3M187.9 266.9A116.5 116.5 0 0 1 188.3 265.6M196.3 268.9L188.1 266.2M187.2 263.8A118.1 118.1 0 0 1 187.5 263M197 266.8L187.4 263.4M196.3 268.9A107.9 107.9 0 0 1 197 266.8M207.9 271.6L196.7 267.8" fill="none" stroke="#8c5cd0" stroke-width="0.65"/>
<path d="M193.8 281.5A107.2 107.2 0 0 1 194.3 279.4M201.8 282.1L194 280.5M189.4 277.1A112.4 112.4 0 0 1 189.9 274.7M198.8 278.1L189.6 275.9M198.8 278.1A103.1 103.1 0 0 1 200 273.2M203.1 276.6L199.4 275.6M201.8 282.1A99.2 99.2 0 0 1 203.1 276.6M205.5 280.1L202.4 279.3M205.5 280.1A96 96 0 0 1 207.9 271.6" fill="none" stroke="#9270c0" stroke-width="0.65"/>
<path d="M206.9 261.7L175.8 248.1M203.5 259.6L178.6 248.6M203.7 259.2L177.4 247.4M201.9 257.9L176.8 246.4M202.1 257.4L177.5 246M207.2 259.2L176.9 245.1M207.4 258.8L173 242.5M202.9 256.1L173.2 241.9M203.2 255.6L173.7 241.4M205.3 256.1L172.5 240M209.4 257.6L170.6 238.4M203.4 254.1L169.6 237.1M203.7 253.6L171.9 237.5M205.1 253.8L169 235.2M205.3 253.3L170 235M205.6 252.9L168.8 233.6M205.8 252.4L170 233.4M209.1 253.6L169.5 232.4M207.2 252.1L168.7 231.1M207.5 251.6L169 230.5M211.4 253.2L169 229.6M209.2 251.5L167.1 227.8M209.4 251L170.9 229.1M207.9 249.6L167.4 226.3M208.1 249.1L167.1 225.3M209.2 249.2L167.7 224.8M211.7 250.1L171.2 226M211.8 249.6L169.3 224.1M212 249.2L169.3 223.2M210.2 247.5L168.4 221.8M210.5 247.1L171.6 222.9M209 245.6L170.9 221.7M209.3 245.1L170.5 220.5M213.1 247L172.5 221M213.3 246.6L171.9 219.8M216.5 248L173.6 220M214.8 246.3L174.8 219.9M215 245.9L173.4 218.2M215.4 245.6L174 217.7M215.6 245.2L176.5 218.5M212.1 242.2L175.6 217M212.4 241.8L177.7 217.7M214.6 242.7L177.5 216.6M214.9 242.3L175.5 214.3M216 242.5L178.6 215.7M213.2 239.9L176.4 213.2M213.5 239.5L181.9 216.4M223.1 245.9L179.7 213.8M213.4 238.2L182.3 214.9M213.7 237.8L180.1 212.4M214.9 238L184.2 214.7M219.3 240.7L186.1 215.2M222.4 242.5L186 214.3M214.1 235.5L186.9 214.2M214.4 235.1L188.6 214.6M216.9 236.4L188.5 213.7M219.1 237.5L191.1 214.9M221 238.4L190.8 213.8M221.3 238L190.9 213M222.4 238.3L194.1 214.8M216.7 232.9L194.2 214.1M217 232.5L194.1 213.1M220.3 234.7L196.9 214.6M221.4 234.9L197.1 214M221.7 234.6L200.5 216.1M222.7 234.9L200.9 215.7" fill="none" stroke="#f0f0a2" stroke-width="0.65"/>
<path d="M203.5 259.6A104.5 104.5 0 0 1 203.7 259.2M207.2 261L203.6 259.4M206.9 261.7A100.5 100.5 0 0 1 207.2 261M208.5 262L207 261.4M201.9 257.9A106.6 106.6 0 0 1 202.1 257.4M208.1 260.4L202 257.6M207.2 259.2A101.3 101.3 0 0 1 207.4 258.8M208.5 259.5L207.3 259M208.1 260.4A100 100 0 0 1 208.5 259.5M209.2 260.4L208.3 260M202.9 256.1A106.5 106.5 0 0 1 203.2 255.6M205 256.8L203.1 255.9M205 256.8A104.4 104.4 0 0 1 205.3 256.1M213 260.2L205.1 256.4M203.4 254.1A106.9 106.9 0 0 1 203.7 253.6M209.7 256.9L203.6 253.8M209.4 257.6A100 100 0 0 1 209.7 256.9M213.5 259.2L209.5 257.3M205.1 253.8A105.6 105.6 0 0 1 205.3 253.3M206.1 254L205.2 253.5M205.6 252.9A105.6 105.6 0 0 1 205.8 252.4M206.6 253.1L205.7 252.7M206.1 254A104.6 104.6 0 0 1 206.6 253.1M212.4 256.8L206.3 253.6M207.2 252.1A104.5 104.5 0 0 1 207.5 251.6M209.4 253L207.3 251.9M209.1 253.6A102.1 102.1 0 0 1 209.4 253M213.1 255.4L209.3 253.3M209.2 251.5A103.1 103.1 0 0 1 209.4 251M211.7 252.6L209.3 251.3M211.4 253.2A100.3 100.3 0 0 1 211.7 252.6M215.9 255.4L211.5 252.9M207.9 249.6A105.1 105.1 0 0 1 208.1 249.1M208.9 249.9L208 249.4M208.9 249.9A104.1 104.1 0 0 1 209.2 249.2M211.3 250.8L209 249.5M211.3 250.8A101.6 101.6 0 0 1 211.7 250.1M216.9 253.7L211.5 250.5M211.8 249.6A101.8 101.8 0 0 1 212 249.2M217.4 252.7L211.9 249.4M210.2 247.5A104.2 104.2 0 0 1 210.5 247.1M212.2 248.5L210.3 247.3M209 245.6A106.2 106.2 0 0 1 209.3 245.1M212.8 247.6L209.1 245.4M212.2 248.5A101.9 101.9 0 0 1 212.8 247.6M218.1 251.6L212.5 248M213.1 247A102 102 0 0 1 213.3 246.6M217.9 249.8L213.2 246.8M214.8 246.3A100.9 100.9 0 0 1 215 245.9M216.8 247.4L214.9 246.1M216.5 248A98.6 98.6 0 0 1 216.8 247.4M218.4 248.9L216.6 247.7M217.9 249.8A96.5 96.5 0 0 1 218.4 248.9M219.7 250.3L218.1 249.3M215.4 245.6A100.9 100.9 0 0 1 215.6 245.2M220.6 248.9L215.5 245.4M212.1 242.2A105.5 105.5 0 0 1 212.4 241.8M219.4 246.9L212.3 242M214.6 242.7A103.1 103.1 0 0 1 214.9 242.3M215.6 243.1L214.8 242.5M215.6 243.1A102.1 102.1 0 0 1 216 242.5M219.3 245.3L215.8 242.8M213.2 239.9A105.9 105.9 0 0 1 213.5 239.5M219.9 244.4L213.4 239.7M219.3 245.3A97.8 97.8 0 0 1 219.9 244.4M220.4 245.4L219.6 244.9M213.4 238.2A106.7 106.7 0 0 1 213.7 237.8M214.4 238.6L213.6 238M214.4 238.6A105.7 105.7 0 0 1 214.9 238M218.8 241.4L214.6 238.3M218.8 241.4A100.6 100.6 0 0 1 219.3 240.7M221.9 243.2L219 241M221.9 243.2A97 97 0 0 1 222.4 242.5M224.2 244.4L222.1 242.9M214.1 235.5A107.9 107.9 0 0 1 214.4 235.1M216.4 237L214.3 235.3M216.4 237A105.1 105.1 0 0 1 216.9 236.4M218.6 238.2L216.7 236.7M218.6 238.2A102.7 102.7 0 0 1 219.1 237.5M224.5 242.4L218.8 237.8M221 238.4A100.7 100.7 0 0 1 221.3 238M221.9 238.9L221.1 238.2M221.9 238.9A99.6 99.6 0 0 1 222.4 238.3M223.9 240L222.1 238.6M216.7 232.9A107.4 107.4 0 0 1 217 232.5M219.8 235.3L216.9 232.7M219.8 235.3A103.5 103.5 0 0 1 220.3 234.7M224.8 239L220.1 235M221.4 234.9A102.6 102.6 0 0 1 221.7 234.6M222.3 235.4L221.5 234.7M222.3 235.4A101.6 101.6 0 0 1 222.7 234.9M226.4 238.6L222.5 235.1" fill="none" stroke="#e6e688" stroke-width="0.65"/>
<path d="M208.5 262A98.9 98.9 0 0 1 209.2 260.4M213.4 263.2L208.9 261.2M213 260.2A95.6 95.6 0 0 1 213.5 259.2M214.7 260.5L213.2 259.7M213.4 263.2A94 94 0 0 1 214.7 260.5M222.8 266L214 261.8M212.4 256.8A97.7 97.7 0 0 1 213.1 255.4M224.6 262.4L212.8 256.1M222.8 266A84.3 84.3 0 0 1 224.6 262.4M234.7 269.7L223.7 264.2M215.9 255.4A95.3 95.3 0 0 1 216.9 253.7M217.3 255L216.4 254.5M217.4 252.7A95.3 95.3 0 0 1 218.1 251.6M218.6 252.7L217.8 252.1M217.3 255A94.3 94.3 0 0 1 218.6 252.7M229.7 260.8L217.9 253.8M219.7 250.3A94.7 94.7 0 0 1 220.6 248.9M231 256.8L220.1 249.6M219.4 246.9A96.8 96.8 0 0 1 220.4 245.4M231.5 254.4L219.9 246.2M223.1 245.9A94.4 94.4 0 0 1 224.2 244.4M231.1 250.9L223.6 245.2M223.9 240A97.4 97.4 0 0 1 224.8 239M225.1 240.1L224.3 239.5M225.1 240.1A96.4 96.4 0 0 1 226.4 238.6M226.5 240L225.8 239.3M224.5 242.4A95.4 95.4 0 0 1 226.5 240M233.5 247.8L225.5 241.2M231.1 250.9A85 85 0 0 1 233.5 247.8M234.2 250.8L232.3 249.3M231.5 254.4A82.6 82.6 0 0 1 234.2 250.8M233.6 253.2L232.8 252.6M231 256.8A81.6 81.6 0 0 1 233.6 253.2M233.1 255.6L232.3 255M229.7 260.8A80.6 80.6 0 0 1 233.1 255.6M238.6 262.8L231.4 258.2M234.7 269.7A72 72 0 0 1 238.6 262.8" fill="none" stroke="#e0e080" stroke-width="0.65"/>
<path d="M244.6 251.8L197.2 208M244.6 250.4L197.5 205.7M241.2 245.6L200.5 205.8M242 244.8L201.3 204M241.2 245.6A80.8 80.8 0 0 1 242 244.8M245.7 249.2L241.6 245.2M244.6 250.4A75 75 0 0 1 245.7 249.2M245.9 250.5L245.1 249.8M244.6 251.8A74 74 0 0 1 245.9 250.5" fill="none" stroke="#7a74c4" stroke-width="0.65"/>
<path d="M215.2 214.9L203.7 202.9M215.6 214.5L203.6 201.9M216.9 215.1L201.3 198.6M217.3 214.8L202.9 199.4M217.8 214.6L202.4 197.9M218.2 214.3L202.9 197.6M221.2 216.8L201 194.6M221.6 216.4L204.1 197.1M217.6 211.3L206.2 198.5M218 210.9L207.6 199.2M220.2 212.6L204.9 195.3M220.6 212.3L206.4 196.1M223.5 214.8L207.2 196M219.9 209.9L207.9 195.9M220.3 209.5L208.6 195.8M221.6 210.3L207.1 193.1M224.3 212.7L209.1 194.5M224.7 212.4L211.4 196.3M225.7 212.9L211 194.9M224.9 211L211.3 194.4M225.3 210.7L212.6 195M223 207L209.7 190.4M223.4 206.7L212.5 192.9M226 209.1L213.2 192.8M227 209.6L212.8 191.4M227.4 209.3L212.1 189.5M228.3 209.7L215.2 192.6M228.7 209.4L214.3 190.3M229.7 209.9L216.5 192.3M226.3 204.4L214.3 188.4M226.7 204.1L217.5 191.6M229.8 207.5L213.7 185.4M229.7 206.4L217.5 189.6M230.1 206.1L216.3 186.8M233.4 209.9L218 188.3M230.6 205L216.9 185.6M231 204.7L215.3 182.3M230 202.4L218.2 185.4M230.4 202.1L220.1 187M231.9 203.3L221.4 187.9M232.9 203.9L220.2 185M234.6 205.5L221.8 186.3M232.9 201.9L222 185.4M233.3 201.7L223.4 186.6M233.8 201.6L222.8 184.6M234.3 201.3L222.6 183.2M235.2 201.8L225.1 185.9M235.7 201.6L224.3 183.5M236.1 201.3L223.4 180.9M237.8 203L224 180.8M238.2 202.8L226.2 183.2M236.3 198.6L226.7 182.8M236.7 198.3L228.1 183.9M237.7 198.9L224.8 177.2M243 206.9L227.9 181.2M238.5 198.3L230 183.6M239 198L226.3 176M240.1 198.9L230.2 181.7M240.5 198.7L231.4 182.5M239.5 195.7L230.1 178.9M239.9 195.4L228.5 174.8M242.4 198.9L230.7 177.6M241.9 196.9L230.7 176.2M242.3 196.6L231.3 176.1M243.3 197.3L233.7 179.2M242.3 194.3L234.5 179.5M242.8 194.1L233.1 175.4M244.1 195.4L234.3 176.5M244.9 196L235.5 177.5M245.4 195.8L236.1 177.3M246.3 196.5L235.6 175M246.3 195.3L235.8 174M246.3 194.2L238.2 177.5M246.8 194L239.3 178.4M249.3 198L238.9 176.2M251 200.3L238.2 173.4M247.6 192L236.8 168.8M248.1 191.8L237.9 169.8M249 192.5L241.3 175.6M250.3 194.1L241.4 174.4M249.9 192L240.8 171.6M250.4 191.8L242.6 174M251.3 192.5L242.2 171.6M252.5 194.2L243.5 173.3M252.7 193.3L245.2 175.6M253.2 193.1L243.9 171M254.3 194.5L244.5 170.8M254.8 194.3L244.7 169.8M253.7 190.2L245.9 171.1M254.2 190L247.4 173.1M255.2 191.2L247.8 172.5M255.7 191L247.3 169.5M258.7 197.5L248.9 172.1M258.7 196.1L250.1 173.5M259.2 195.9L248.4 167.1M258.4 192.3L249.5 168.5M258.5 191.2L250.3 168.7M259 191L251.1 169.3M260.1 192.7L253.1 172.9M260.6 192.6L252.9 170.5M260.7 191.5L253 169M261.2 191.3L250.7 160.6M261.1 189.4L255.1 171.7M261.6 189.2L254.4 167.7M264.2 195.6L255.5 169M262.1 187.4L256.2 169.2M262.6 187.2L256 166.4M263.4 188L255.5 162.9M264.7 190.6L257.2 166.1M265.2 190.4L258.8 169.3M265.2 188.8L259.3 169M265.7 188.7L260.2 169.8M266.5 189.5L259.9 166.8M266.2 186.5L261.4 169.9M266.7 186.4L261.6 168.3M267.4 187.2L261.3 164.9M268.5 189L262 165M269.2 190L263.5 168.4M269.7 189.9L264.3 169.2M271.3 193.8L264.4 167.1M270.8 190.2L265.4 168.5M271.3 190L265.5 166.4M272 190.9L265.7 164.8M272.5 190.7L266.3 164.8M272.3 187.6L267.8 168.3M272.8 187.5L267.3 163.4M273.5 188.4L268.2 164.9M273 183.9L268.7 164.2M273.5 183.8L269.1 163.3M275.2 189.1L269.5 162.1M275.7 189L271.1 166.8M275.9 187.5L271.3 164.5M276.4 187.4L272 165M277.1 188.3L272.4 164M276.9 184.5L273 164.1M277.4 184.4L273.3 162M278 185.1L274.1 163.1M278.4 184.1L274.9 164.2M278.9 184L275.7 165.5M279.7 185.9L276 163.5M280.8 189.6L277 166.1M281.5 190.8L277.5 165.5M281.2 185.7L277.5 161.2M281.7 185.6L278.7 165.3M282.8 189.6L279.4 165.8M283.3 189.5L279.3 160.8M283.3 186L280.5 165M283.8 186L280.5 160.3M284.8 189.9L281.3 161.7M285.4 190.8L282.4 165.4M285.4 185.9L282.7 163.2M285.6 183.9L283.1 161.9M286.1 183.8L283.9 162.8M286.8 184.8L284.2 160.5M287.4 186.1L284.9 160.9M287.9 186L285.6 162.4M288.5 187L286.2 161.6M288.9 185.5L286.7 161M289 181L287.3 160.4M289.5 180.9L287.7 157.6M290.1 182.1L288.7 162.1M290.7 182.1L289.2 161.7M291.2 183L290 164.5M291.7 181.5L290.6 163.6M292.2 181.4L291 160.5M292.9 185.8L291.8 163.5M293.4 184.8L292.3 162.1M293.7 180.5L293 164.5M294.2 180.5L293.6 162.8M295.1 188.9L294.1 162.4M295.5 187.9L294.7 159.4M295.9 184.4L295.3 161.8M296.4 184.4L296 163M297 186.7L296.6 163.8M297.5 186.7L297.2 163.4M298 184.1L297.8 161M298.5 184.1L298.4 161.9M299 191.3L299 160.2M299.5 185.7L299.6 164.2M300 185.7L300.2 164M300.6 180.1L300.8 164.3M301.1 180.1L301.4 162.1M301.4 190.3L302.1 159.5M302 187.2L302.5 164.2M302.5 186.2L303.6 149.6M303 186.2L304 156.5M303.5 185.1L304.7 154.6M304 185.1L305 162.1M304.5 186.3L305.8 158.4M305.2 182.5L306.3 161.8M305.7 182.6L306.8 162.4M306.2 182.6L307.4 163.4M306.7 182.6L308 163.7M307.2 183.9L308.8 160.9M307.7 183.9L309.2 162.5M307.9 187.1L309.7 165.1M308.4 187.1L310.5 162M308.6 190.9L311.1 162.5M309.9 181.7L311.7 162.2M310.5 181.8L312.9 155.7M310.7 184.8L312.7 164.4M311.3 183.9L313.5 162.1M311.8 183.9L315.1 153.8M312 186.6L314.7 162.9M312.6 185.7L315.2 163.6M313.1 185.8L316 161.7M313.9 183.7L316.6 162.5M314.4 183.7L316.9 164.4M314.8 184.8L318 160.8M315.4 184.3L318.1 164.4M316.2 182L320 155.5M316.7 182.1L319.3 164.6M317 184.2L320.4 161.3M317.5 184.3L320.4 165.3M318.1 183.4L321.1 165M318.6 183.4L321.9 163.6M319 184.5L322.4 164.6M319.4 185L322.8 165.6M320.1 184.1L324.2 161.4M320.6 184.2L324.7 161.9M320.9 185.3L326.5 155.9M321.4 185.4L325.2 165.9M322.5 182.9L325.7 166.4M323 183L326.4 165.9M322.9 186L327.4 164.3M323.4 186.1L327.4 167.2M323 190.2L328.9 162.9M323.5 190.3L328.6 167.2M323.7 191.7L329.4 166.5M324.2 191.8L330.1 166.1" fill="none" stroke="#dc9094" stroke-width="0.65"/>
<path d="M215.2 214.9A120.9 120.9 0 0 1 215.6 214.5M217.9 217.3L215.4 214.7M216.9 215.1A119.5 119.5 0 0 1 217.3 214.8M218 215.9L217.1 214.9M217.8 214.6A119.3 119.3 0 0 1 218.2 214.3M218.7 215.2L218 214.4M218 215.9A118.3 118.3 0 0 1 218.7 215.2M219 216.3L218.3 215.5M221.2 216.8A115.4 115.4 0 0 1 221.6 216.4M223.5 218.9L221.4 216.6M217.6 211.3A121.9 121.9 0 0 1 218 210.9M222.8 216.7L217.8 211.1M220.2 212.6A119.2 119.2 0 0 1 220.6 212.3M222.9 215.3L220.4 212.4M222.9 215.3A115.3 115.3 0 0 1 223.5 214.8M223.9 215.8L223.2 215.1M222.8 216.7A114.3 114.3 0 0 1 223.9 215.8M224 217L223.4 216.3M219.9 209.9A121.4 121.4 0 0 1 220.3 209.5M221 210.8L220.1 209.7M221 210.8A120 120 0 0 1 221.6 210.3M225.6 215.6L221.3 210.6M224.3 212.7A116.4 116.4 0 0 1 224.7 212.4M225.2 213.3L224.5 212.6M225.2 213.3A115.4 115.4 0 0 1 225.7 212.9M226.1 213.9L225.4 213.1M224.9 211A117.4 117.4 0 0 1 225.3 210.7M225.7 211.6L225.1 210.8M223 207A121.7 121.7 0 0 1 223.4 206.7M225.4 209.6L223.2 206.8M225.4 209.6A118.1 118.1 0 0 1 226 209.1M226.8 210.7L225.7 209.4M225.7 211.6A116.4 116.4 0 0 1 226.8 210.7M226.9 212L226.2 211.2M227 209.6A117.2 117.2 0 0 1 227.4 209.3M228.3 210.8L227.2 209.4M228.3 209.7A116.3 116.3 0 0 1 228.7 209.4M229.1 210.3L228.5 209.5M229.1 210.3A115.3 115.3 0 0 1 229.7 209.9M230 210.9L229.4 210.1M226.3 204.4A121.7 121.7 0 0 1 226.7 204.1M229.8 208.7L226.5 204.2M229.7 206.4A118.1 118.1 0 0 1 230.1 206.1M230.5 207L229.9 206.2M229.8 207.5A117.1 117.1 0 0 1 230.5 207M230.7 208.1L230.1 207.3M229.8 208.7A116.1 116.1 0 0 1 230.7 208.1M231.4 209.9L230.3 208.4M230.6 205A118.7 118.7 0 0 1 231 204.7M234 209.5L230.8 204.9M233.4 209.9A113.1 113.1 0 0 1 234 209.5M236 212.9L233.7 209.7M230 202.4A121.2 121.2 0 0 1 230.4 202.1M231.3 203.8L230.2 202.2M231.3 203.8A119.3 119.3 0 0 1 231.9 203.3M232.2 204.4L231.6 203.5M232.2 204.4A118.3 118.3 0 0 1 232.9 203.9M238.9 213.5L232.5 204.1M232.9 201.9A119.9 119.9 0 0 1 233.3 201.7M235.3 205.1L233.1 201.8M234.6 205.5A116 116 0 0 1 235.3 205.1M239.9 212.8L234.9 205.3M233.8 201.6A119.7 119.7 0 0 1 234.3 201.3M234.6 202.3L234.1 201.4M234.6 202.3A118.7 118.7 0 0 1 235.2 201.8M235.5 202.9L234.9 202M235.7 201.6A118.7 118.7 0 0 1 236.1 201.3M236.4 202.3L235.9 201.4M235.5 202.9A117.7 117.7 0 0 1 236.4 202.3M237.2 204.6L235.9 202.6M237.8 203A116.4 116.4 0 0 1 238.2 202.8M238.5 203.7L238 202.9M236.3 198.6A121 121 0 0 1 236.7 198.3M237 199.3L236.5 198.4M237 199.3A120 120 0 0 1 237.7 198.9M242.8 208.2L237.3 199.1M238.5 198.3A120.1 120.1 0 0 1 239 198M239.9 200.2L238.7 198.1M240.1 198.9A118.7 118.7 0 0 1 240.5 198.7M240.8 199.7L240.3 198.8M239.9 200.2A117.7 117.7 0 0 1 240.8 199.7M244 206.3L240.4 199.9M243 206.9A110.4 110.4 0 0 1 244 206.3M244 207.5L243.5 206.6M239.5 195.7A121.8 121.8 0 0 1 239.9 195.4M242.2 200.1L239.7 195.6M241.9 196.9A119.6 119.6 0 0 1 242.3 196.6M242.6 197.6L242.1 196.7M242.6 197.6A118.6 118.6 0 0 1 243.3 197.3M243.4 198.3L242.9 197.4M242.4 198.9A117.6 117.6 0 0 1 243.4 198.3M243.4 199.5L242.9 198.6M242.3 194.3A121.7 121.7 0 0 1 242.8 194.1M243.4 195.8L242.5 194.2M243.4 195.8A119.9 119.9 0 0 1 244.1 195.4M247.1 202.2L243.7 195.6M244.9 196A119 119 0 0 1 245.4 195.8M245.6 196.8L245.2 195.9M245.6 196.8A118 118 0 0 1 246.3 196.5M248 200.6L246 196.6M246.3 194.2A120 120 0 0 1 246.8 194M247 195L246.6 194.1M246.3 195.3A119 119 0 0 1 247 195M248.3 198.5L246.7 195.2M248.3 198.5A115.3 115.3 0 0 1 249.3 198M249.6 199.9L248.8 198.2M247.6 192A121.4 121.4 0 0 1 248.1 191.8M248.3 192.8L247.9 191.9M248.3 192.8A120.4 120.4 0 0 1 249 192.5M251.9 199.8L248.6 192.6M251 200.3A112.5 112.5 0 0 1 251.9 199.8M251.9 201L251.5 200.1M249.9 192A120.4 120.4 0 0 1 250.4 191.8M250.6 192.9L250.2 191.9M250.6 192.9A119.4 119.4 0 0 1 251.3 192.5M251.3 193.6L250.9 192.7M250.3 194.1A118.4 118.4 0 0 1 251.3 193.6M251.2 194.8L250.8 193.8M251.2 194.8A117.4 117.4 0 0 1 252.5 194.2M252.3 195.4L251.9 194.5M252.7 193.3A118.1 118.1 0 0 1 253.2 193.1M253.6 194.8L253 193.2M254.3 194.5A116.4 116.4 0 0 1 254.8 194.3M254.9 195.3L254.6 194.4M253.7 190.2A120.6 120.6 0 0 1 254.2 190M254.8 192.4L253.9 190.1M255.2 191.2A119.2 119.2 0 0 1 255.7 191M255.8 192L255.4 191.1M254.8 192.4A118.2 118.2 0 0 1 255.8 192M258.7 200.7L255.3 192.2M258.7 196.1A113.3 113.3 0 0 1 259.2 195.9M259.4 197.3L258.9 196M258.7 197.5A111.9 111.9 0 0 1 259.4 197.3M260.1 200.2L259.1 197.4M258.5 191.2A118 118 0 0 1 259 191M259.1 192L258.7 191.1M258.4 192.3A117 117 0 0 1 259.1 192M259.1 193.1L258.7 192.2M259.1 193.1A116 116 0 0 1 260.1 192.7M259.9 193.9L259.6 192.9M260.7 191.5A117 117 0 0 1 261.2 191.3M261.3 192.3L261 191.4M260.6 192.6A116 116 0 0 1 261.3 192.3M261.3 193.4L260.9 192.4M261.1 189.4A118.8 118.8 0 0 1 261.6 189.2M262.9 193.9L261.3 189.3M262.1 187.4A120.4 120.4 0 0 1 262.6 187.2M262.6 188.2L262.3 187.3M262.6 188.2A119.4 119.4 0 0 1 263.4 188M265.3 195.3L263 188.1M264.2 195.6A111.9 111.9 0 0 1 265.3 195.3M265 196.4L264.7 195.4M264.7 190.6A116.6 116.6 0 0 1 265.2 190.4M266.3 195L264.9 190.5M265.2 188.8A118.1 118.1 0 0 1 265.7 188.7M265.8 189.7L265.5 188.8M265.8 189.7A117.1 117.1 0 0 1 266.5 189.5M267.6 194.7L266.1 189.6M266.3 195A111.8 111.8 0 0 1 267.6 194.7M267.2 195.8L267 194.8M266.2 186.5A120.1 120.1 0 0 1 266.7 186.4M266.7 187.4L266.4 186.4M266.7 187.4A119.1 119.1 0 0 1 267.4 187.2M267.6 189.2L267.1 187.3M267.6 189.2A117 117 0 0 1 268.5 189M269.7 195.1L268 189.1M269.2 190A115.9 115.9 0 0 1 269.7 189.9M270.6 194L269.5 189.9M270.6 194A111.7 111.7 0 0 1 271.3 193.8M271.4 195.9L270.9 193.9M270.8 190.2A115.3 115.3 0 0 1 271.3 190M271.9 193.3L271.1 190.1M272 190.9A114.4 114.4 0 0 1 272.5 190.7M272.8 193.1L272.3 190.8M271.9 193.3A112 112 0 0 1 272.8 193.1M273.7 198.8L272.4 193.2M272.3 187.6A117.5 117.5 0 0 1 272.8 187.5M272.8 188.5L272.5 187.6M272.8 188.5A116.5 116.5 0 0 1 273.5 188.4M274 192.5L273.1 188.4M273 183.9A120.9 120.9 0 0 1 273.5 183.8M275.1 192.2L273.3 183.9M274 192.5A112.4 112.4 0 0 1 275.1 192.2M275.4 196L274.6 192.3M275.2 189.1A115.4 115.4 0 0 1 275.7 189M276.8 195.7L275.4 189.1M275.9 187.5A116.8 116.8 0 0 1 276.4 187.4M276.3 188.5L276.1 187.5M276.3 188.5A115.8 115.8 0 0 1 277.1 188.3M277.7 193.2L276.7 188.4M276.9 184.5A119.5 119.5 0 0 1 277.4 184.4M278.5 192L277.1 184.5M278.4 184.1A119.7 119.7 0 0 1 278.9 184M278.8 185L278.6 184M278 185.1A118.7 118.7 0 0 1 278.8 185M278.6 186.1L278.4 185.1M278.6 186.1A117.7 117.7 0 0 1 279.7 185.9M279.8 189.8L279.2 186M279.8 189.8A113.8 113.8 0 0 1 280.8 189.6M280.6 191.6L280.3 189.7M281.2 185.7A117.7 117.7 0 0 1 281.7 185.6M282.2 190.6L281.5 185.6M281.5 190.8A112.6 112.6 0 0 1 282.2 190.6M282 191.7L281.9 190.7M282.8 189.6A113.6 113.6 0 0 1 283.3 189.5M283.3 191.5L283.1 189.5M282 191.7A111.6 111.6 0 0 1 283.3 191.5M283.5 197L282.7 191.6M283.3 186A117 117 0 0 1 283.8 186M284.1 190L283.6 186M284.1 190A113 113 0 0 1 284.8 189.9M284.6 190.9L284.5 190M284.6 190.9A112 112 0 0 1 285.4 190.8M285.2 191.9L285 190.9M285.6 183.9A118.9 118.9 0 0 1 286.1 183.8M286 184.9L285.9 183.9M286 184.9A117.9 117.9 0 0 1 286.8 184.8M286.5 185.8L286.4 184.8M285.4 185.9A116.9 116.9 0 0 1 286.5 185.8M286.6 191.7L285.9 185.9M287.4 186.1A116.5 116.5 0 0 1 287.9 186M287.8 187L287.7 186M287.8 187A115.5 115.5 0 0 1 288.5 187M288.9 195.2L288.1 187M289 181A121.5 121.5 0 0 1 289.5 180.9M289.6 185.5L289.3 180.9M288.9 185.5A116.9 116.9 0 0 1 289.6 185.5M290.1 196.1L289.3 185.5M290.1 182.1A120.2 120.2 0 0 1 290.7 182.1M290.5 183.1L290.4 182.1M290.5 183.1A119.2 119.2 0 0 1 291.2 183M290.9 184.1L290.9 183.1M291.7 181.5A120.8 120.8 0 0 1 292.2 181.4M292.1 184L291.9 181.4M290.9 184.1A118.2 118.2 0 0 1 292.1 184M292.1 193.8L291.5 184M293.7 180.5A121.6 121.6 0 0 1 294.2 180.5M294.2 184.7L294 180.5M293.4 184.8A117.4 117.4 0 0 1 294.2 184.7M293.8 185.7L293.8 184.7M292.9 185.8A116.4 116.4 0 0 1 293.8 185.7M293.6 191L293.4 185.8M295.9 184.4A117.6 117.6 0 0 1 296.4 184.4M296.3 187.9L296.2 184.4M295.5 187.9A114.2 114.2 0 0 1 296.3 187.9M295.9 188.9L295.9 187.9M295.1 188.9A113.2 113.2 0 0 1 295.9 188.9M295.5 189.9L295.5 188.9M297 186.7A115.3 115.3 0 0 1 297.5 186.7M297.3 189.9L297.2 186.7M298 184.1A117.9 117.9 0 0 1 298.5 184.1M298.3 192.6L298.2 184.1M299.5 185.7A116.3 116.3 0 0 1 300 185.7M299.7 186.8L299.7 185.7M300.6 180.1A121.9 121.9 0 0 1 301.1 180.1M300.7 186.8L300.8 180.1M299.7 186.8A115.2 115.2 0 0 1 300.7 186.8M300.2 190.3L300.2 186.8M300.2 190.3A111.7 111.7 0 0 1 301.4 190.3M300.8 191.3L300.8 190.3M302.5 186.2A115.8 115.8 0 0 1 303 186.2M302.7 187.2L302.7 186.2M302 187.2A114.8 114.8 0 0 1 302.7 187.2M302.3 188.2L302.3 187.2M303.5 185.1A117 117 0 0 1 304 185.1M303.7 186.3L303.8 185.1M303.7 186.3A115.8 115.8 0 0 1 304.5 186.3M304 188.3L304.1 186.3M305.2 182.5A119.6 119.6 0 0 1 305.7 182.6M305.4 183.6L305.4 182.6M306.2 182.6A119.6 119.6 0 0 1 306.7 182.6M306.4 183.6L306.5 182.6M305.4 183.6A118.6 118.6 0 0 1 306.4 183.6M305.6 189.4L305.9 183.6M307.2 183.9A118.4 118.4 0 0 1 307.7 183.9M307 189.5L307.4 183.9M307.9 187.1A115.3 115.3 0 0 1 308.4 187.1M308 189.5L308.2 187.1M307 189.5A112.8 112.8 0 0 1 308 189.5M307.4 190.5L307.5 189.5M309.9 181.7A120.8 120.8 0 0 1 310.5 181.8M309.3 191L310.2 181.8M308.6 190.9A111.5 111.5 0 0 1 309.3 191M308.7 194.4L309 191M311.3 183.9A118.7 118.7 0 0 1 311.8 183.9M311.4 184.9L311.5 183.9M310.7 184.8A117.7 117.7 0 0 1 311.4 184.9M310.8 187.5L311.1 184.9M312.6 185.7A117.1 117.1 0 0 1 313.1 185.8M312.8 186.7L312.9 185.7M312 186.6A116.1 116.1 0 0 1 312.8 186.7M312.3 187.7L312.4 186.7M313.9 183.7A119.3 119.3 0 0 1 314.4 183.7M314 184.7L314.2 183.7M314 184.7A118.3 118.3 0 0 1 314.8 184.8M313.9 188.7L314.4 184.8M316.2 182A121.2 121.2 0 0 1 316.7 182.1M316.1 184.5L316.5 182.1M315.4 184.3A118.8 118.8 0 0 1 316.1 184.5M315.3 187.8L315.7 184.4M317 184.2A119.2 119.2 0 0 1 317.5 184.3M317.1 185.2L317.2 184.2M318.1 183.4A120.2 120.2 0 0 1 318.6 183.4M318.2 184.4L318.4 183.4M318.2 184.4A119.2 119.2 0 0 1 319 184.5M318.4 185.4L318.6 184.5M317.1 185.2A118.2 118.2 0 0 1 318.4 185.4M317.3 188.1L317.7 185.3M320.1 184.1A119.8 119.8 0 0 1 320.6 184.2M320.2 185.2L320.4 184.2M319.4 185A118.8 118.8 0 0 1 320.2 185.2M319.6 186.1L319.8 185.1M320.9 185.3A118.8 118.8 0 0 1 321.4 185.4M321 186.3L321.2 185.3M319.6 186.1A117.8 117.8 0 0 1 321 186.3M319 193.2L320.3 186.2M322.5 182.9A121.4 121.4 0 0 1 323 183M320.6 193.5L322.7 183M322.9 186A118.5 118.5 0 0 1 323.4 186.1M322.1 191L323.1 186M323 190.2A114.3 114.3 0 0 1 323.5 190.3M323.1 191.2L323.3 190.3M322.1 191A113.3 113.3 0 0 1 323.1 191.2M321.6 195.7L322.6 191.1M323.7 191.7A113.1 113.1 0 0 1 324.2 191.8M323 196L324 191.7" fill="none" stroke="#b86a6e" stroke-width="0.65"/>
<path d="M217.9 217.3A117.3 117.3 0 0 1 219 216.3M230.2 229.2L218.5 216.8M224 217A113.3 113.3 0 0 1 225.6 215.6M225.5 217.1L224.8 216.3M223.5 218.9A112.3 112.3 0 0 1 225.5 217.1M228.5 222.5L224.5 218M226.9 212A115.4 115.4 0 0 1 228.3 210.8M228.2 212.2L227.6 211.4M226.1 213.9A114.4 114.4 0 0 1 228.2 212.2M232.2 219.3L227.1 213M228.5 222.5A106.3 106.3 0 0 1 232.2 219.3M234.3 225.5L230.3 220.9M230.2 229.2A100.2 100.2 0 0 1 234.3 225.5M234.2 229.6L232.2 227.3M230 210.9A114.3 114.3 0 0 1 231.4 209.9M233.8 214.5L230.7 210.4M233.8 214.5A109.2 109.2 0 0 1 236 212.9M241.9 223.3L234.9 213.7M234.2 229.6A97.2 97.2 0 0 1 241.9 223.3M244.3 234.3L238 226.4M238.9 213.5A107 107 0 0 1 239.9 212.8M240.7 215.1L239.4 213.1M237.2 204.6A115.4 115.4 0 0 1 238.5 203.7M241.8 210.5L237.9 204.2M242.8 208.2A109.4 109.4 0 0 1 244 207.5M244.1 209L243.4 207.8M241.8 210.5A107.9 107.9 0 0 1 244.1 209M244.6 212.5L243 209.7M240.7 215.1A104.7 104.7 0 0 1 244.6 212.5M243.2 214.6L242.6 213.8M242.2 200.1A116.6 116.6 0 0 1 243.4 199.5M245.8 205.2L242.8 199.8M248 200.6A113.5 113.5 0 0 1 249.6 199.9M249.2 201.1L248.8 200.2M247.1 202.2A112.5 112.5 0 0 1 249.2 201.1M248.6 202.6L248.2 201.7M248.6 202.6A111.5 111.5 0 0 1 251.9 201M250.7 202.7L250.2 201.8M245.8 205.2A110.5 110.5 0 0 1 250.7 202.7M251.3 209.9L248.2 203.9M243.2 214.6A103.7 103.7 0 0 1 251.3 209.9M250.5 218L247.2 212.2M252.3 195.4A116.4 116.4 0 0 1 253.6 194.8M253.4 196L253 195.1M253.4 196A115.4 115.4 0 0 1 254.9 195.3M257.8 204.4L254.2 195.7M258.7 200.7A109 109 0 0 1 260.1 200.2M260.5 203.3L259.4 200.4M257.8 204.4A105.9 105.9 0 0 1 260.5 203.3M261.7 210L259.2 203.9M259.9 193.9A115 115 0 0 1 261.3 193.4M260.9 194.6L260.6 193.6M260.9 194.6A114 114 0 0 1 262.9 193.9M262.9 197.1L261.9 194.2M262.9 197.1A110.9 110.9 0 0 1 265 196.4M264.7 199L264 196.7M267.2 195.8A110.8 110.8 0 0 1 269.7 195.1M268.8 196.7L268.5 195.5M268.8 196.7A109.6 109.6 0 0 1 271.4 195.9M270.4 197.3L270.1 196.3M264.7 199A108.6 108.6 0 0 1 270.4 197.3M270.2 206.9L267.5 198.1M261.7 210A99.3 99.3 0 0 1 270.2 206.9M266.7 210.5L265.9 208.4M250.5 218A97 97 0 0 1 266.7 210.5M262.6 222.9L258.4 213.9M244.3 234.3A87 87 0 0 1 262.6 222.9M255.8 232.3L253.1 228M275.4 196A108.6 108.6 0 0 1 276.8 195.7M276.6 198.1L276.1 195.8M273.7 198.8A106.3 106.3 0 0 1 276.6 198.1M275.9 201.5L275.1 198.4M278.5 192A111.9 111.9 0 0 1 280.6 191.6M279.8 192.8L279.6 191.8M277.7 193.2A110.9 110.9 0 0 1 279.8 192.8M279.6 197.7L278.7 193M279.6 197.7A106.1 106.1 0 0 1 283.5 197M282 200.3L281.5 197.3M275.9 201.5A103.1 103.1 0 0 1 282 200.3M280.6 209.3L278.9 200.9M285.2 191.9A111 111 0 0 1 286.6 191.7M286.3 195.5L285.9 191.8M286.3 195.5A107.3 107.3 0 0 1 288.9 195.2M287.7 196.3L287.6 195.3M287.7 196.3A106.3 106.3 0 0 1 290.1 196.1M289.8 205.4L288.9 196.2M295.5 189.9A112.2 112.2 0 0 1 297.3 189.9M296.4 190.9L296.4 189.9M293.6 191A111.2 111.2 0 0 1 296.4 190.9M295.1 192.7L295 190.9M295.1 192.7A109.4 109.4 0 0 1 298.3 192.6M296.7 193.6L296.7 192.6M292.1 193.8A108.4 108.4 0 0 1 296.7 193.6M294.5 194.7L294.4 193.7M299 191.3A110.7 110.7 0 0 1 300.8 191.3M299.9 194.6L299.9 191.3M294.5 194.7A107.4 107.4 0 0 1 299.9 194.6M297.3 204.9L297.2 194.6M289.8 205.4A97.1 97.1 0 0 1 297.3 204.9M293.6 206.7L293.6 205.1M302.3 188.2A113.8 113.8 0 0 1 304 188.3M303.1 189.2L303.2 188.3M303.1 189.2A112.8 112.8 0 0 1 305.6 189.4M304.3 190.3L304.3 189.3M304.3 190.3A111.8 111.8 0 0 1 307.4 190.5M305.1 202.2L305.9 190.4M310.8 187.5A115.1 115.1 0 0 1 312.3 187.7M310.8 194.6L311.5 187.6M308.7 194.4A108 108 0 0 1 310.8 194.6M308.9 202.5L309.7 194.5M305.1 202.2A100 100 0 0 1 308.9 202.5M306.7 205.8L307 202.3M315.3 187.8A115.3 115.3 0 0 1 317.3 188.1M316.1 189L316.3 188M313.9 188.7A114.3 114.3 0 0 1 316.1 189M314.3 193.5L315 188.8M319 193.2A110.6 110.6 0 0 1 320.6 193.5M319.6 194.4L319.8 193.4M314.3 193.5A109.6 109.6 0 0 1 319.6 194.4M315.7 201.8L317 193.9M321.6 195.7A108.7 108.7 0 0 1 323 196M320.8 202.8L322.3 195.9M315.7 201.8A101.6 101.6 0 0 1 320.8 202.8M317.3 207.3L318.2 202.2M306.7 205.8A96.5 96.5 0 0 1 317.3 207.3M311.9 207.4L312 206.4M293.6 206.7A95.5 95.5 0 0 1 311.9 207.4M302.7 207.6L302.8 206.6M280.6 209.3A94.5 94.5 0 0 1 302.7 207.6M292.6 220.2L291.6 207.8M255.8 232.3A82 82 0 0 1 292.6 220.2" fill="none" stroke="#967070" stroke-width="0.65"/>
<path d="M323.7 196.4L329.9 169.8M324.3 196.6L330.1 172.3M325.9 192.9L332.6 165.7M326.5 193.1L331.8 172.2M327.1 193.3L332.5 172.4M327.8 193.4L332.9 174M327.4 197.3L334.4 171.2M328 197.5L334.2 174.9M328.1 199.5L336 171.5M330.3 193.9L335.8 175.2M331.3 193.1L337.4 172.3M331.9 193.3L338.5 171.4M331.9 195.4L339.1 172.2M332.4 196L340.4 170.8M333.4 195.2L340.1 174.4M334.3 194.4L341.1 173.7M334.9 194.7L341.7 174.4M336.1 193.3L341.8 176.5M336.7 193.5L342.4 177.2M334.8 201L343.6 175.9M337.7 194.8L344.8 175M338.3 195L345.9 174.3M338 197.6L345.7 177M339.3 196.1L350.6 166.4M339.9 196.4L347.8 176M338.8 200.9L347.9 177.8M339.4 201.1L348.1 179.5M340.7 199.7L350.4 175.8M341.7 199L350.6 177.5M342.3 199.3L351.2 178M343.2 198.7L352.3 177.5M344.4 197.6L351.6 181.1M345 197.8L353 179.7M343.2 203.5L353.1 181.4M345.3 200.4L354.6 180M345.9 200.6L356.2 178.3M346.4 201.2L357.5 177.6M347.5 200.6L357.9 178.7M348.1 200.9L358.4 179.7M348.4 201.9L358.3 182M349.5 201.3L360.1 180.3M350.2 201.7L360.5 181.3M350.6 202.4L362 180.3M351.7 201.9L368.5 169.9M352.3 202.2L362.2 183.6M351.4 205.3L363.3 183.6M353.2 203.6L370.4 172.3M355.4 201.2L366.4 181.4M356 201.5L366.4 183.2M355.1 204.6L370.7 177.5M356.2 204.1L368.3 183.5M356.8 204.5L369.4 183.4M357.9 204.2L370.1 183.9M358.5 204.6L371 184.1M357.8 207.1L370.7 186.4M358.4 207.5L372.2 185.5M358.3 209L372.5 186.7M358.9 209.4L372 189.1M358.9 210.6L373.5 188.4M363.1 205.6L380.9 178.9M363.7 206L375.9 187.8M363.6 207.4L376.5 188.6M361.9 211.2L377.2 189.2M362.5 211.6L378.1 189.4M363.5 211.4L379.1 189.6M364.1 211.8L378.2 192.2" fill="none" stroke="#84c0c6" stroke-width="0.65"/>
<path d="M323.7 196.4A108.4 108.4 0 0 1 324.3 196.6M323.6 198.2L324 196.5M325.9 192.9A112.3 112.3 0 0 1 326.5 193.1M325.9 194L326.2 193M327.1 193.3A112.3 112.3 0 0 1 327.8 193.4M327.2 194.3L327.4 193.3M325.9 194A111.3 111.3 0 0 1 327.2 194.3M325.4 198.6L326.6 194.1M327.4 197.3A108.5 108.5 0 0 1 328 197.5M327.2 199.2L327.7 197.4M327.2 199.2A106.6 106.6 0 0 1 328.1 199.5M327 201.5L327.6 199.3M331.3 193.1A113.6 113.6 0 0 1 331.9 193.3M331.3 194.2L331.6 193.2M330.3 193.9A112.6 112.6 0 0 1 331.3 194.2M330.5 195L330.8 194M330.5 195A111.6 111.6 0 0 1 331.9 195.4M328.7 203.6L331.2 195.2M334.3 194.4A113.2 113.2 0 0 1 334.9 194.7M334.3 195.5L334.6 194.6M333.4 195.2A112.2 112.2 0 0 1 334.3 195.5M333.5 196.3L333.8 195.3M332.4 196A111.2 111.2 0 0 1 333.5 196.3M328.9 208.7L333 196.1M336.1 193.3A114.8 114.8 0 0 1 336.7 193.5M333.9 200.6L336.4 193.4M333.9 200.6A107.2 107.2 0 0 1 334.8 201M333.4 203.4L334.3 200.8M337.7 194.8A114 114 0 0 1 338.3 195M337.1 197.2L338 194.9M337.1 197.2A111.5 111.5 0 0 1 338 197.6M335.6 202.9L337.6 197.4M339.3 196.1A113.3 113.3 0 0 1 339.9 196.4M337.9 200.5L339.6 196.2M337.9 200.5A108.7 108.7 0 0 1 338.8 200.9M338 201.6L338.4 200.7M341.7 199A111.5 111.5 0 0 1 342.3 199.3M341.6 200.1L342 199.1M340.7 199.7A110.5 110.5 0 0 1 341.6 200.1M340.4 201.5L341.1 199.9M339.4 201.1A108.7 108.7 0 0 1 340.4 201.5M339.6 202.2L339.9 201.3M344.4 197.6A113.9 113.9 0 0 1 345 197.8M344.1 199.1L344.7 197.7M343.2 198.7A112.3 112.3 0 0 1 344.1 199.1M341.5 203.8L343.6 198.9M345.3 200.4A111.7 111.7 0 0 1 345.9 200.6M344.1 203.9L345.6 200.5M343.2 203.5A108 108 0 0 1 344.1 203.9M343.2 204.6L343.6 203.7M347.5 200.6A112.4 112.4 0 0 1 348.1 200.9M347.4 201.7L347.8 200.8M346.4 201.2A111.4 111.4 0 0 1 347.4 201.7M346.3 202.7L346.9 201.4M349.5 201.3A112.6 112.6 0 0 1 350.2 201.7M349.4 202.4L349.8 201.5M348.4 201.9A111.6 111.6 0 0 1 349.4 202.4M348.2 203.6L348.9 202.2M351.7 201.9A113.1 113.1 0 0 1 352.3 202.2M351.5 202.9L352 202.1M350.6 202.4A112.1 112.1 0 0 1 351.5 202.9M350 204.6L351 202.7M350 204.6A110 110 0 0 1 351.4 205.3M350.3 205.9L350.7 205M355.4 201.2A115.5 115.5 0 0 1 356 201.5M354.2 204.1L355.7 201.4M353.2 203.6A112.4 112.4 0 0 1 354.2 204.1M353.2 204.7L353.7 203.8M356.2 204.1A113.4 113.4 0 0 1 356.8 204.5M356 205.2L356.5 204.3M355.1 204.6A112.4 112.4 0 0 1 356 205.2M355.1 205.8L355.6 204.9M357.9 204.2A114.2 114.2 0 0 1 358.5 204.6M355.7 208.5L358.2 204.4M357.8 207.1A111.6 111.6 0 0 1 358.4 207.5M356.9 209.2L358.1 207.3M355.7 208.5A109.4 109.4 0 0 1 356.9 209.2M355.2 210.7L356.3 208.8M358.3 209A110.3 110.3 0 0 1 358.9 209.4M358 210L358.6 209.2M358 210A109.3 109.3 0 0 1 358.9 210.6M357.9 211.2L358.5 210.3M363.1 205.6A115.8 115.8 0 0 1 363.7 206M362.7 206.8L363.4 205.8M362.7 206.8A114.5 114.5 0 0 1 363.6 207.4M359.6 212.4L363.2 207.1M361.9 211.2A110.5 110.5 0 0 1 362.5 211.6M360.8 213.4L362.2 211.4M363.5 211.4A111.2 111.2 0 0 1 364.1 211.8M362 214.2L363.8 211.6M360.8 213.4A108.1 108.1 0 0 1 362 214.2M360.3 215.3L361.4 213.8" fill="none" stroke="#56969e" stroke-width="0.65"/>
<path d="M323.6 198.2A106.7 106.7 0 0 1 325.4 198.6M323.9 200.7L324.5 198.4M323.9 200.7A104.3 104.3 0 0 1 327 201.5M325.1 202.6L325.5 201.1M325.1 202.6A102.7 102.7 0 0 1 328.7 203.6M325.1 209.6L326.9 203.1M338 201.6A107.7 107.7 0 0 1 339.6 202.2M338 203.8L338.8 201.9M335.6 202.9A105.7 105.7 0 0 1 338 203.8M336.4 204.5L336.8 203.3M333.4 203.4A104.4 104.4 0 0 1 336.4 204.5M332.7 210L334.9 203.9M328.9 208.7A98 98 0 0 1 332.7 210M330.5 210.3L330.8 209.3M341.5 203.8A107 107 0 0 1 343.2 204.6M338.3 213.3L342.4 204.2M330.5 210.3A97 97 0 0 1 338.3 213.3M334.1 212.6L334.4 211.7M325.1 209.6A96 96 0 0 1 334.1 212.6M346.3 202.7A110 110 0 0 1 348.2 203.6M346.8 204.1L347.2 203.2M346.8 204.1A109 109 0 0 1 350.3 205.9M345.5 210.9L348.5 204.9M353.2 204.7A111.4 111.4 0 0 1 355.1 205.8M349.6 213.1L354.1 205.2M345.5 210.9A102.3 102.3 0 0 1 349.6 213.1M346.5 214L347.6 212M357.9 211.2A108.2 108.2 0 0 1 359.6 212.4M358.2 212.6L358.8 211.8M355.2 210.7A107.2 107.2 0 0 1 358.2 212.6M356.2 212.5L356.7 211.7M356.2 212.5A106.2 106.2 0 0 1 360.3 215.3M354.8 219L358.3 213.9M346.5 214A100 100 0 0 1 354.8 219" fill="none" stroke="#74969c" stroke-width="0.65"/>
<path d="M366.2 210.1L381.4 189.4M366.9 210.6L383.1 188.7M366.9 211.8L384.1 189M367.4 212.4L384.8 189.6M369.6 210.8L383.9 192.4M370.2 211.3L386.5 190.6M370.5 212.2L389.8 187.9M371.1 212.7L386.8 193.2M370.9 214.2L389.1 191.9M372.1 213.9L388 194.8M372.7 214.4L390.6 193.1M372 216.5L389.1 196.4M372.5 217L392.5 193.9M372.2 218.5L393 194.8M372.8 219L394 195.1M372.1 220.9L396.3 194M372.6 221.4L398 193.7M376.3 218.6L395.7 197.6M376.8 219.1L395.8 198.9M377.4 219.6L395.9 200.2M378 220.2L399.6 197.7M377.3 221.9L399.3 199.5M380.1 220.2L399.3 200.8M380.7 220.7L401.9 199.6M380.5 222L399.8 203M378.4 225.1L399.7 204.4M380.3 224.3L399.7 205.8M380.9 224.8L402.1 204.8M383.6 223.4L402.7 205.6M384.1 224L403.4 206.3M381.6 227.3L402.1 208.7M385.2 225.1L404.9 207.5M385.7 225.7L405.1 208.6M385 227.3L404.5 210.4M384.7 228.6L404.6 211.5M387.3 227.4L408.5 209.5M387.8 228L405.9 212.9M388 228.9L409.8 211M388.4 229.5L408.2 213.5M388.2 230.7L407.5 215.2M384.5 234.6L411.6 213.3M385 235.2L411.6 214.5M390.7 231.7L417.2 211.4M391.2 232.3L412.4 216.3M390.2 234.1L413.5 216.7M390.6 234.7L413.5 217.9M390.3 235.9L415.7 217.4M390.9 236.4L415.9 218.5M391.3 237L415.1 220.3M390.7 238.4L415.6 221.1M390.3 239.6L414.9 222.7M392.4 239.1L416.3 223M392.8 239.7L417.1 223.6M394 239.8L420 222.8M394.4 240.5L419.5 224.3M393.7 241.8L418.9 225.9M394.2 242.5L418.3 227.4M394.6 243.1L421.1 226.8M396.6 242.8L420 228.6M397 243.4L428.3 224.7M396.7 244.5L419.5 231.1M397.1 245.2L419.3 232.3M399.3 244.8L422.7 231.5M399.7 245.5L421.9 233M398.5 247L421.5 234.3M398.5 247.9L424.9 233.6M398.9 248.6L423.4 235.5M397.4 250.2L421.6 237.5M398.6 250.5L422.8 237.9M399.8 250.7L425.5 237.6M401.1 250.9L427.1 237.9M401.4 251.6L426.1 239.5M398.9 253.7L426.6 240.3M399.2 254.4L426.7 241.3M400.1 254.8L434.9 238.6M401.3 255.1L433.9 240.1M402.6 255.3L429.5 243.2M402.9 256.1L426.3 245.7M400.4 258L426.7 246.5M400.6 258.7L427.9 247.1M400.9 259.4L429.3 247.5M398.9 261L431.5 247.6M405.9 259L429 249.7M406.2 259.7L431.7 249.7M400.3 262.8L432.3 250.5M401.6 263.1L429.6 252.5M402.8 263.5L431.4 252.8M403.1 264.2L431.6 253.8M404.2 264.6L430.4 255.3M404.5 265.3L434 255" fill="none" stroke="#bb8cc8" stroke-width="0.65"/>
<path d="M366.2 210.1A113.9 113.9 0 0 1 366.9 210.6M366 211.1L366.6 210.3M366 211.1A112.9 112.9 0 0 1 366.9 211.8M362.5 216.8L366.4 211.5M369.6 210.8A115.3 115.3 0 0 1 370.2 211.3M368.9 212.3L369.9 211M370.5 212.2A114.7 114.7 0 0 1 371.1 212.7M370.1 213.3L370.8 212.5M368.9 212.3A113.7 113.7 0 0 1 370.1 213.3M368.9 213.6L369.5 212.8M367.4 212.4A112.7 112.7 0 0 1 368.9 213.6M365.1 216.9L368.2 213M372.1 213.9A114.5 114.5 0 0 1 372.7 214.4M371.8 214.9L372.4 214.2M370.9 214.2A113.5 113.5 0 0 1 371.8 214.9M367.7 219L371.3 214.6M372 216.5A112.4 112.4 0 0 1 372.5 217M368.9 220.7L372.3 216.7M372.2 218.5A111 111 0 0 1 372.8 219M370 221.6L372.5 218.8M368.9 220.7A107.2 107.2 0 0 1 370 221.6M368.8 221.9L369.4 221.1M372.1 220.9A109.1 109.1 0 0 1 372.6 221.4M370.4 223.3L372.3 221.2M376.3 218.6A113.7 113.7 0 0 1 376.8 219.1M375.9 219.6L376.6 218.8M377.4 219.6A113.7 113.7 0 0 1 378 220.2M377 220.6L377.7 219.9M375.9 219.6A112.7 112.7 0 0 1 377 220.6M367 230L376.4 220.1M380.1 220.2A115.2 115.2 0 0 1 380.7 220.7M379.7 221.2L380.4 220.5M379.7 221.2A114.2 114.2 0 0 1 380.5 222M378.5 223.1L380.1 221.6M377.3 221.9A112 112 0 0 1 378.5 223.1M370.2 230.3L377.9 222.5M380.3 224.3A112.5 112.5 0 0 1 380.9 224.8M379.2 225.9L380.6 224.6M378.4 225.1A110.6 110.6 0 0 1 379.2 225.9M377 227.2L378.8 225.5M383.6 223.4A115.5 115.5 0 0 1 384.1 224M380.1 227.1L383.8 223.7M385.2 225.1A115.5 115.5 0 0 1 385.7 225.7M384.2 226.5L385.4 225.4M384.2 226.5A113.9 113.9 0 0 1 385 227.3M383.8 227.6L384.6 226.9M383.8 227.6A112.9 112.9 0 0 1 384.7 228.6M383.1 229.1L384.3 228.1M381.6 227.3A111.4 111.4 0 0 1 383.1 229.1M381.6 228.8L382.4 228.2M387.3 227.4A115.6 115.6 0 0 1 387.8 228M384.8 230L387.6 227.7M388 228.9A115.1 115.1 0 0 1 388.4 229.5M387.4 229.8L388.2 229.2M387.4 229.8A114.1 114.1 0 0 1 388.2 230.7M386.1 231.6L387.8 230.3M384.8 230A112 112 0 0 1 386.1 231.6M382.3 233.4L385.5 230.8M384.5 234.6A108.9 108.9 0 0 1 385 235.2M383.9 235.5L384.7 234.9M390.7 231.7A115.6 115.6 0 0 1 391.2 232.3M385.4 236.2L391 232M390.2 234.1A113.7 113.7 0 0 1 390.6 234.7M389.6 235L390.4 234.4M389.6 235A112.7 112.7 0 0 1 390.3 235.9M387.4 237.2L389.9 235.4M390.9 236.4A112.9 112.9 0 0 1 391.3 237M390.1 237.4L391.1 236.7M390.1 237.4A111.6 111.6 0 0 1 390.7 238.4M389.6 238.5L390.4 237.9M389.6 238.5A110.6 110.6 0 0 1 390.3 239.6M389.1 239.6L389.9 239M392.4 239.1A112.7 112.7 0 0 1 392.8 239.7M389.4 241.6L392.6 239.4M394 239.8A113.5 113.5 0 0 1 394.4 240.5M393.1 240.9L394.2 240.2M393.1 240.9A112.2 112.2 0 0 1 393.7 241.8M392.6 241.9L393.4 241.4M394.2 242.5A112.2 112.2 0 0 1 394.6 243.1M393.5 243.3L394.4 242.8M392.6 241.9A111.2 111.2 0 0 1 393.5 243.3M390.9 243.9L393.1 242.6M396.6 242.8A114.2 114.2 0 0 1 397 243.4M395.1 244.1L396.8 243.1M396.7 244.5A113.4 113.4 0 0 1 397.1 245.2M395.9 245.4L396.9 244.8M395.1 244.1A112.2 112.2 0 0 1 395.9 245.4M389.6 248.3L395.5 244.8M399.3 244.8A115.4 115.4 0 0 1 399.7 245.5M398 246L399.5 245.2M398 246A113.7 113.7 0 0 1 398.5 247M390.1 251.1L398.3 246.5M398.5 247.9A113.2 113.2 0 0 1 398.9 248.6M394.3 250.6L398.7 248.3M401.1 250.9A114.1 114.1 0 0 1 401.4 251.6M400.4 251.7L401.3 251.3M399.8 250.7A113.1 113.1 0 0 1 400.4 251.7M399.2 251.6L400.1 251.2M398.6 250.5A112.1 112.1 0 0 1 399.2 251.6M398 251.5L398.9 251M397.4 250.2A111.1 111.1 0 0 1 398 251.5M396 251.7L397.7 250.9M398.9 253.7A111 111 0 0 1 399.2 254.4M397.5 254.8L399.1 254M402.6 255.3A113.6 113.6 0 0 1 402.9 256.1M401.8 256.1L402.7 255.7M401.3 255.1A112.6 112.6 0 0 1 401.8 256.1M400.7 256L401.6 255.6M400.1 254.8A111.6 111.6 0 0 1 400.7 256M399.5 255.8L400.4 255.4M399.5 255.8A110.6 110.6 0 0 1 400.4 258M394.5 259.3L400 256.9M400.6 258.7A110.5 110.5 0 0 1 400.9 259.4M398.5 260L400.8 259M398.5 260A108 108 0 0 1 398.9 261M396.5 261.4L398.7 260.5M405.9 259A115.2 115.2 0 0 1 406.2 259.7M398.9 262.2L406 259.4M402.8 263.5A110.8 110.8 0 0 1 403.1 264.2M402 264.2L403 263.8M401.6 263.1A109.8 109.8 0 0 1 402 264.2M400.7 264.1L401.8 263.6M400.3 262.8A108.6 108.6 0 0 1 400.7 264.1M399.6 263.8L400.5 263.4M404.2 264.6A111.7 111.7 0 0 1 404.5 265.3M399.5 266.6L404.4 264.9" fill="none" stroke="#9462a8" stroke-width="0.65"/>
<path d="M365.1 216.9A107.8 107.8 0 0 1 367.7 219M365.5 219.1L366.4 217.9M362.5 216.8A106.2 106.2 0 0 1 365.5 219.1M363.4 218.7L364 217.9M368.8 221.9A106.2 106.2 0 0 1 370.4 223.3M368.9 223.3L369.6 222.6M363.4 218.7A105.2 105.2 0 0 1 368.9 223.3M362.2 225.8L366.2 221M362.2 225.8A99 99 0 0 1 367 230M363 229.8L364.7 227.9M380.1 227.1A110.4 110.4 0 0 1 381.6 228.8M379.1 229.5L380.9 228M377 227.2A108 108 0 0 1 379.1 229.5M372.9 233.2L378.1 228.4M370.2 230.3A101 101 0 0 1 372.9 233.2M369.8 233.5L371.6 231.7M382.3 233.4A107.9 107.9 0 0 1 383.9 235.5M375.8 240.3L383.1 234.5M369.8 233.5A98.5 98.5 0 0 1 375.8 240.3M371.4 238.2L372.9 236.8M363 229.8A96.5 96.5 0 0 1 371.4 238.2M361.3 239.8L367.3 233.8M387.4 237.2A109.6 109.6 0 0 1 389.1 239.6M387.5 239L388.3 238.4M385.4 236.2A108.6 108.6 0 0 1 387.5 239M380.9 241.7L386.5 237.6M389.4 241.6A108.7 108.7 0 0 1 390.9 243.9M387.3 244.6L390.2 242.7M387.3 244.6A105.3 105.3 0 0 1 389.6 248.3M387.6 247L388.5 246.4M387.6 247A104.3 104.3 0 0 1 390.1 251.1M386.6 250.4L388.9 249M380.9 241.7A101.7 101.7 0 0 1 386.6 250.4M380.6 248.1L383.8 246M396 251.7A109.3 109.3 0 0 1 397.5 254.8M395.9 253.7L396.8 253.3M394.3 250.6A108.3 108.3 0 0 1 395.9 253.7M387.9 255.9L395.1 252.2M398.9 262.2A107.6 107.6 0 0 1 399.6 263.8M398.3 263.4L399.2 263M398.3 263.4A106.6 106.6 0 0 1 399.5 266.6M398 265.3L398.9 265M396.5 261.4A105.6 105.6 0 0 1 398 265.3M396.3 263.7L397.3 263.4M394.5 259.3A104.6 104.6 0 0 1 396.3 263.7M391.4 263.2L395.4 261.5M387.9 255.9A100.2 100.2 0 0 1 391.4 263.2M387.6 260.5L389.7 259.5M380.6 248.1A97.8 97.8 0 0 1 387.6 260.5M375.8 259L384.3 254.2M361.3 239.8A88 88 0 0 1 375.8 259" fill="none" stroke="#866e98" stroke-width="0.65"/>
<path d="M405.4 266.8L437.7 256.1M405.7 267.4L435.4 257.8M407.1 267.7L431.4 260M407.3 268.4L439.2 258.5M407.3 269.1L433.7 261.1M408.5 269.5L433.2 262.1M408.7 270.2L434.1 262.8M407 271.4L435 263.4M407.2 272.1L433.4 264.8M406.4 273L442 263.4M402.1 274.8L434.5 266.3M405.2 274.7L436.4 266.7M405.3 275.4L435.9 267.7M404.5 276.3L436.2 268.6M403.7 277.2L435.3 269.7M409.1 276.6L436 270.4M410.2 277.1L435.4 271.4M410.3 277.8L435 272.4M404.6 279.7L438.6 272.6M407.8 279.7L442 272.8M411 279.8L437.1 274.7M411.2 280.5L438.1 275.4M404.1 282.5L435.5 276.7M403.7 283.3L436.4 277.4M408.1 283.2L437.7 278.1M408.2 283.9L440.4 278.5M407.4 284.7L437.5 279.9M408.5 285.2L439.6 280.5M408.6 285.9L438.2 281.6M408.3 286.6L440.3 282.1M408.4 287.3L438 283.4M411.5 287.6L441.6 283.8M411.6 288.3L438.7 285M407.7 289.5L440.4 285.7M407.8 290.2L438.1 286.8M405 291.1L441.2 287.4M411.2 291.2L438.1 288.6M412.3 291.8L444 288.9M412.3 292.5L439.1 290.3M410.4 293.4L441.2 291M409.7 294.1L444.4 291.6M409.8 294.8L441.7 292.7M411.2 295.4L438.2 293.8M412.2 296L439.3 294.6M412.2 296.7L439 295.5M411.9 297.5L446.1 296.1M411.9 298.2L442 297.1M411.9 298.9L441.7 298M411.9 299.6L439 299M411 300.3L440.2 299.8M410 301L439.3 300.7M403.1 301.7L441.7 301.6M408.7 302.4L442 302.5M408.7 303.1L443.7 303.4M407.7 303.7L439.8 304.2M407.7 304.4L441.8 305.1M407.6 305.1L439.6 306M406.8 305.7L438.7 306.8M406.7 306.4L444.8 307.9M409.3 307.2L440 308.6M409.2 307.9L440.9 309.5M408.4 308.5L441.5 310.5M412.1 309.4L439.1 311.2M412.1 310.1L438.7 312M412.3 310.8L438.1 312.9M412.2 311.5L441.7 314" fill="none" stroke="#92e08a" stroke-width="0.65"/>
<path d="M405.4 266.8A112.1 112.1 0 0 1 405.7 267.4M404.6 267.4L405.6 267.1M407.1 267.7A113.4 113.4 0 0 1 407.3 268.4M405 268.7L407.2 268M404.6 267.4A111.1 111.1 0 0 1 405 268.7M397.1 270.5L404.8 268.1M408.5 269.5A114.2 114.2 0 0 1 408.7 270.2M407.6 270.1L408.6 269.8M407.3 269.1A113.2 113.2 0 0 1 407.6 270.1M397.7 272.5L407.5 269.6M407 271.4A112.3 112.3 0 0 1 407.2 272.1M406.1 272L407.1 271.7M406.1 272A111.3 111.3 0 0 1 406.4 273M399.9 274.2L406.3 272.5M405.2 274.7A109.6 109.6 0 0 1 405.3 275.4M404.3 275.3L405.3 275.1M404.3 275.3A108.6 108.6 0 0 1 404.5 276.3M403.4 276L404.4 275.8M403.4 276A107.6 107.6 0 0 1 403.7 277.2M402.6 276.8L403.6 276.6M402.1 274.8A106.6 106.6 0 0 1 402.6 276.8M401.4 276.1L402.4 275.8M410.2 277.1A113.9 113.9 0 0 1 410.3 277.8M409.3 277.7L410.3 277.4M409.1 276.6A112.9 112.9 0 0 1 409.3 277.7M402 278.8L409.2 277.1M411 279.8A114.2 114.2 0 0 1 411.2 280.5M408 280.8L411.1 280.2M407.8 279.7A111.1 111.1 0 0 1 408 280.8M404.8 280.9L407.9 280.3M404.6 279.7A107.9 107.9 0 0 1 404.8 280.9M403.7 280.5L404.7 280.3M403.7 280.5A106.9 106.9 0 0 1 404.1 282.5M400.4 282.2L403.9 281.5M408.1 283.2A110.7 110.7 0 0 1 408.2 283.9M403.9 284.3L408.2 283.5M403.7 283.3A106.4 106.4 0 0 1 403.9 284.3M399.9 284.5L403.8 283.8M408.5 285.2A110.8 110.8 0 0 1 408.6 285.9M407.6 285.7L408.6 285.6M407.4 284.7A109.8 109.8 0 0 1 407.6 285.7M401.3 286.2L407.5 285.2M408.3 286.6A110.4 110.4 0 0 1 408.4 287.3M407.4 287.1L408.4 287M411.5 287.6A113.4 113.4 0 0 1 411.6 288.3M407.5 288.5L411.6 288M407.4 287.1A109.4 109.4 0 0 1 407.5 288.5M401.7 288.6L407.5 287.8M407.7 289.5A109.4 109.4 0 0 1 407.8 290.2M404.9 290.1L407.7 289.8M404.9 290.1A106.5 106.5 0 0 1 405 291.1M398.4 291.3L404.9 290.6M412.3 291.8A113.7 113.7 0 0 1 412.3 292.5M411.3 292.2L412.3 292.1M411.2 291.2A112.7 112.7 0 0 1 411.3 292.2M410.3 291.8L411.3 291.7M410.3 291.8A111.7 111.7 0 0 1 410.4 293.4M399.3 293.5L410.3 292.6M409.7 294.1A111 111 0 0 1 409.8 294.8M407 294.6L409.8 294.4M412.2 296A113.4 113.4 0 0 1 412.2 296.7M411.2 296.4L412.2 296.4M411.2 295.4A112.4 112.4 0 0 1 411.2 296.4M407.1 296.1L411.2 295.9M407 294.6A108.2 108.2 0 0 1 407.1 296.1M399.4 295.9L407 295.4M411.9 297.5A113 113 0 0 1 411.9 298.2M408.9 297.9L411.9 297.8M411.9 298.9A113 113 0 0 1 411.9 299.6M410.9 299.2L411.9 299.2M410.9 299.2A112 112 0 0 1 411 300.3M409.9 299.8L410.9 299.8M409.9 299.8A111 111 0 0 1 410 301M409 300.4L410 300.4M408.7 302.4A109.7 109.7 0 0 1 408.7 303.1M407.7 302.7L408.7 302.7M407.7 302.7A108.7 108.7 0 0 1 407.7 303.7M406.7 303.2L407.7 303.2M407.7 304.4A108.7 108.7 0 0 1 407.6 305.1M406.6 304.7L407.6 304.7M406.7 303.2A107.7 107.7 0 0 1 406.6 304.7M398.5 303.8L406.7 304M406.8 305.7A107.8 107.8 0 0 1 406.7 306.4M405.7 306L406.7 306M409.3 307.2A110.4 110.4 0 0 1 409.2 307.9M405.7 307.3L409.2 307.5M405.7 306A106.8 106.8 0 0 1 405.7 307.3M403.9 306.6L405.7 306.7M412.1 309.4A113.4 113.4 0 0 1 412.1 310.1M409.3 309.6L412.1 309.8M412.3 310.8A113.6 113.6 0 0 1 412.2 311.5M409.2 311L412.2 311.2M409.3 309.6A110.6 110.6 0 0 1 409.2 311M408.3 310.2L409.3 310.3M408.4 308.5A109.6 109.6 0 0 1 408.3 310.2M403.8 309L408.3 309.3" fill="none" stroke="#66c460" stroke-width="0.65"/>
<path d="M397.1 270.5A103 103 0 0 1 397.7 272.5M395.5 272.1L397.4 271.5M401.4 276.1A105.6 105.6 0 0 1 402 278.8M400.8 277.6L401.7 277.4M399.9 274.2A104.6 104.6 0 0 1 400.8 277.6M399.1 276.3L400.3 275.9M399.1 276.3A103.3 103.3 0 0 1 400.4 282.2M397.6 279.7L399.8 279.2M395.5 272.1A101.1 101.1 0 0 1 397.6 279.7M384 279.3L396.6 275.9M401.3 286.2A103.6 103.6 0 0 1 401.7 288.6M400.3 287.5L401.5 287.4M399.9 284.5A102.4 102.4 0 0 1 400.3 287.5M397.7 286.4L400.1 286M397.7 286.4A99.9 99.9 0 0 1 398.4 291.3M394.5 289.3L398.1 288.8M399.3 293.5A100.6 100.6 0 0 1 399.4 295.9M395 295L399.4 294.7M394.5 289.3A96.3 96.3 0 0 1 395 295M389.9 292.7L394.8 292.2M408.9 297.9A110 110 0 0 1 409 300.4M403.1 299.3L408.9 299.2M403.1 299.3A104.1 104.1 0 0 1 403.1 301.7M398.5 300.6L403.1 300.5M398.5 300.6A99.5 99.5 0 0 1 398.5 303.8M397.5 302.2L398.5 302.2M403.9 306.6A105 105 0 0 1 403.8 309M397.4 307.5L403.9 307.8M397.5 302.2A98.5 98.5 0 0 1 397.4 307.5M390.3 304.6L397.5 304.8M389.9 292.7A91.4 91.4 0 0 1 390.3 304.6M386.9 298.8L390.3 298.6M384 279.3A88 88 0 0 1 386.9 298.8" fill="none" stroke="#a0a870" stroke-width="0.65"/>
<path d="M411.5 312.2L436.4 314.5M411.4 312.9L437.4 315.4M410.7 313.6L436.9 316.3M410.6 314.3L436 317.1M409.2 314.8L438.3 318.2M410.8 315.8L435.1 318.8M410.7 316.5L439.1 320.2M412.6 317.5L438.3 321M412.5 318.2L437.9 321.8M402.8 317.5L435.4 322.3M403.7 318.3L434.3 323.1M411.8 320.3L434.1 323.9M411.6 321L434 324.8M406.5 320.8L436.6 326.1M409.4 322.1L436.4 327M410.2 323L434.6 327.6M410.1 323.7L434.2 328.4M406.5 323.7L435.7 329.6M406.4 324.4L435.8 330.5M405.7 325L436.7 331.6M405.5 325.6L435.5 332.3M405.5 326.4L435 333.1M406.4 327.3L434.8 334M406.2 328L434.8 334.9M409.7 329.6L435.7 336M409.5 330.3L434.8 336.8M403.7 329.5L432.8 337.2M403.3 330.1L430.8 337.5M407.6 332L433.2 339.1M407.4 332.7L431.3 339.5" fill="none" stroke="#9aa2d8" stroke-width="0.65"/>
<path d="M411.5 312.2A112.9 112.9 0 0 1 411.4 312.9M408.4 312.3L411.4 312.6M410.7 313.6A112.3 112.3 0 0 1 410.6 314.3M409.3 313.8L410.7 313.9M409.3 313.8A110.9 110.9 0 0 1 409.2 314.8M408.2 314.2L409.2 314.3M408.4 312.3A109.9 109.9 0 0 1 408.2 314.2M406 313L408.3 313.2M410.8 315.8A112.7 112.7 0 0 1 410.7 316.5M405.7 315.5L410.8 316.1M412.6 317.5A114.6 114.6 0 0 1 412.5 318.2M404.5 316.7L412.5 317.8M411.8 320.3A114.2 114.2 0 0 1 411.6 321M406.6 319.8L411.7 320.7M406.6 319.8A109.1 109.1 0 0 1 406.5 320.8M403.5 319.8L406.5 320.3M403.7 318.3A106 106 0 0 1 403.5 319.8M402.6 318.9L403.6 319.1M402.8 317.5A105 105 0 0 1 402.6 318.9M394.3 316.9L402.7 318.2M410.2 323A113.2 113.2 0 0 1 410.1 323.7M409.2 323.2L410.2 323.3M409.4 322.1A112.2 112.2 0 0 1 409.2 323.2M398.9 320.7L409.3 322.6M406.5 323.7A109.7 109.7 0 0 1 406.4 324.4M403.3 323.4L406.4 324.1M405.7 325A109.1 109.1 0 0 1 405.5 325.6M403 324.7L405.6 325.3M403.3 323.4A106.5 106.5 0 0 1 403 324.7M399.4 323.3L403.1 324.1M406.4 327.3A110.3 110.3 0 0 1 406.2 328M405.3 327.4L406.3 327.6M405.5 326.4A109.3 109.3 0 0 1 405.3 327.4M403.5 326.4L405.4 326.9M409.7 329.6A114.1 114.1 0 0 1 409.5 330.3M404 328.5L409.6 329.9M404 328.5A108.3 108.3 0 0 1 403.7 329.5M402.9 328.8L403.9 329M407.6 332A112.7 112.7 0 0 1 407.4 332.7M403.1 331.1L407.5 332.4M403.3 330.1A108.1 108.1 0 0 1 403.1 331.1M400.4 329.9L403.2 330.6" fill="none" stroke="#6e78c0" stroke-width="0.65"/>
<path d="M406 313A107.5 107.5 0 0 1 405.7 315.5M404.9 314.1L405.8 314.2M404.9 314.1A106.5 106.5 0 0 1 404.5 316.7M392.3 313.8L404.7 315.4M403.5 326.4A107.3 107.3 0 0 1 402.9 328.8M401.1 327.1L403.2 327.6M401.1 327.1A105.2 105.2 0 0 1 400.4 329.9M398.4 327.8L400.8 328.5M399.4 323.3A102.7 102.7 0 0 1 398.4 327.8M397.9 325.3L398.9 325.6M398.9 320.7A101.7 101.7 0 0 1 397.9 325.3M393.4 321.9L398.5 323M394.3 316.9A96.5 96.5 0 0 1 393.4 321.9M391.5 319L393.9 319.4M392.3 313.8A94 94 0 0 1 391.5 319" fill="none" stroke="#7c84ac" stroke-width="0.65"/>
<path d="M403.1 332.2L430.8 340.3M402.9 333L428.6 340.7M403.8 334.1L431.3 342.5M403.6 334.8L437.2 345.4M403.1 335.5L426.2 342.9M405.9 337.2L428.7 344.7M405.6 338L427.1 345.2M398.3 336.3L428.1 346.6M404.9 339.4L428.1 347.6M404.6 340.2L426.7 348.1M398 338.6L427.6 349.5M403.8 341.5L427.2 350.4M403.5 342.3L425 350.6M399 341.3L424.1 351.2M401.4 343.1L425.8 352.9M401.1 343.9L421.8 352.3M402 345.1L425 354.7M401.6 345.8L424.9 355.7M399.4 345.7L421.8 355.4M399.1 346.4L421.7 356.4M394.5 345.2L422.2 357.7M395.1 346.3L425 360.1M394.8 347L419.1 358.3M399.5 350L419.8 359.7M399.2 350.8L421 361.4M395.5 349.8L419.8 361.8M397.3 351.6L417.9 362M397.8 352.7L417.7 362.9M397.4 353.4L417.6 364M396.3 353.7L417.1 364.7M396 354.4L418.3 366.5M394.5 354.5L417.9 367.3M394.1 355.2L419.4 369.3M393.6 355.7L419.4 370.4M393.2 356.4L415.7 369.4M393.7 357.6L414.9 370M394.2 358.8L413.1 370.1M394.6 360L420.2 375.5M394.2 360.7L416 374.1M390.4 359.2L415.2 374.7M389.4 359.5L411.4 373.5M389 360.1L416.5 377.9M390 361.7L412.1 376.2M390.5 362.9L411.4 376.9M390 363.6L412.2 378.6M388.8 363.7L409.9 378.2M388.3 364.3L408.4 378.3M387.4 364.6L409.5 380.3M387 365.2L409.7 381.5M388.1 367L408.3 381.8M387.6 367.6L408.3 382.9M386.4 367.6L407.5 383.5M383.5 366.4L406.2 383.7M383.5 367.4L405.9 384.7M383 368L405.9 386M381.8 367.9L406.5 387.6M384.9 371.5L409.3 391.2M385.2 372.7L402.5 386.9M384.7 373.3L401.7 387.5M384.7 374.3L403.8 390.5M384.2 375L402.2 390.4M379.1 371.6L401.8 391.3M378.7 372.2L401.2 392.1M378.2 372.8L399.1 391.5" fill="none" stroke="#c682cc" stroke-width="0.65"/>
<path d="M403.1 332.2A108.4 108.4 0 0 1 402.9 333M402 332.3L403 332.6M403.8 334.1A109.6 109.6 0 0 1 403.6 334.8M401.6 333.8L403.7 334.5M402 332.3A107.4 107.4 0 0 1 401.6 333.8M397 331.6L401.8 333.1M405.9 337.2A112.5 112.5 0 0 1 405.6 338M402.8 336.6L405.7 337.6M403.1 335.5A109.4 109.4 0 0 1 402.8 336.6M398.8 334.7L402.9 336M398.8 334.7A105.1 105.1 0 0 1 398.3 336.3M396 334.6L398.6 335.5M404.9 339.4A112.3 112.3 0 0 1 404.6 340.2M398.4 337.5L404.8 339.8M398.4 337.5A105.5 105.5 0 0 1 398 338.6M392.9 336.1L398.2 338M403.8 341.5A112 112 0 0 1 403.5 342.3M399.4 340.3L403.7 341.9M399.4 340.3A107.4 107.4 0 0 1 399 341.3M395.8 339.5L399.2 340.8M401.4 343.1A110.3 110.3 0 0 1 401.1 343.9M397.3 341.9L401.2 343.5M402 345.1A111.6 111.6 0 0 1 401.6 345.8M398.9 344.2L401.8 345.4M399.4 345.7A109.5 109.5 0 0 1 399.1 346.4M398.3 345.6L399.2 346M398.9 344.2A108.5 108.5 0 0 1 398.3 345.6M396.5 344L398.6 344.9M395.1 346.3A105.8 105.8 0 0 1 394.8 347M394 346.2L395 346.6M394.5 345.2A104.8 104.8 0 0 1 394 346.2M390.1 343.8L394.3 345.7M399.5 350A111.4 111.4 0 0 1 399.2 350.8M392.5 347.1L399.3 350.4M397.8 352.7A111.1 111.1 0 0 1 397.4 353.4M396.7 352.6L397.6 353.1M397.3 351.6A110.1 110.1 0 0 1 396.7 352.6M394.9 351L397 352.1M395.5 349.8A107.7 107.7 0 0 1 394.9 351M391.7 348.7L395.2 350.4M396.3 353.7A110.2 110.2 0 0 1 396 354.4M389.1 350.3L396.2 354.1M394.5 354.5A108.9 108.9 0 0 1 394.1 355.2M387.5 351.1L394.3 354.8M393.6 355.7A108.8 108.8 0 0 1 393.2 356.4M391.7 355.1L393.4 356.1M394.6 360A111.8 111.8 0 0 1 394.2 360.7M393.6 359.8L394.4 360.3M394.2 358.8A110.8 110.8 0 0 1 393.6 359.8M393 358.8L393.9 359.3M393.7 357.6A109.8 109.8 0 0 1 393 358.8M391.6 357.2L393.4 358.2M391.6 357.2A107.8 107.8 0 0 1 390.4 359.2M390.2 357.7L391 358.2M389.4 359.5A107.1 107.1 0 0 1 389 360.1M384.9 357L389.2 359.8M390.5 362.9A109.9 109.9 0 0 1 390 363.6M389.4 362.7L390.2 363.3M390 361.7A108.9 108.9 0 0 1 389.4 362.7M388.9 361.7L389.7 362.2M388.8 363.7A108.9 108.9 0 0 1 388.3 364.3M387.7 363.4L388.5 364M388.9 361.7A107.9 107.9 0 0 1 387.7 363.4M383.4 359.2L388.3 362.5M387.4 364.6A108.3 108.3 0 0 1 387 365.2M384.7 363.1L387.2 364.9M388.1 367A110.3 110.3 0 0 1 387.6 367.6M387 366.7L387.9 367.3M387 366.7A109.3 109.3 0 0 1 386.4 367.6M384.3 365.4L386.7 367.2M384.3 365.4A106.3 106.3 0 0 1 383.5 366.4M383.1 365.3L383.9 365.9M383.5 367.4A106.8 106.8 0 0 1 383 368M382.5 367.1L383.2 367.7M382.5 367.1A105.8 105.8 0 0 1 381.8 367.9M381.3 366.9L382.1 367.5M385.2 372.7A111.5 111.5 0 0 1 384.7 373.3M384.2 372.4L385 373M384.9 371.5A110.5 110.5 0 0 1 384.2 372.4M380.2 368.3L384.6 371.9M384.7 374.3A112.1 112.1 0 0 1 384.2 375M379.8 370.7L384.4 374.6M379.8 370.7A106.1 106.1 0 0 1 379.1 371.6M377.4 369.4L379.5 371.2M378.7 372.2A106.2 106.2 0 0 1 378.2 372.8M376.3 370.6L378.4 372.5M377.4 369.4A103.4 103.4 0 0 1 376.3 370.6M374 367.6L376.9 370" fill="none" stroke="#a05cb2" stroke-width="0.65"/>
<path d="M397 331.6A102.4 102.4 0 0 1 396 334.6M394.2 332.4L396.5 333.1M394.2 332.4A99.9 99.9 0 0 1 392.9 336.1M391.9 333.7L393.6 334.3M397.3 341.9A106.1 106.1 0 0 1 396.5 344M394.8 342.1L396.9 343M395.8 339.5A103.8 103.8 0 0 1 394.8 342.1M390 338.7L395.3 340.8M391.9 333.7A98.1 98.1 0 0 1 390 338.7M381.5 332.7L391 336.2M392.5 347.1A103.8 103.8 0 0 1 391.7 348.7M390.7 347.2L392.1 347.9M390.7 347.2A102.2 102.2 0 0 1 389.1 350.3M389 348.3L389.9 348.7M389 348.3A101.2 101.2 0 0 1 387.5 351.1M387.4 349.2L388.3 349.7M390.1 343.8A100.2 100.2 0 0 1 387.4 349.2M386.5 345.4L388.8 346.5M391.7 355.1A106.8 106.8 0 0 1 390.2 357.7M385.5 353.2L390.9 356.4M384.9 357A102 102 0 0 1 383.4 359.2M382.9 357.3L384.2 358.1M385.5 353.2A100.5 100.5 0 0 1 382.9 357.3M381.8 353.7L384.2 355.3M386.5 345.4A97.6 97.6 0 0 1 381.8 353.7M381.4 348L384.2 349.6M384.7 363.1A105.3 105.3 0 0 1 383.1 365.3M376.1 358.5L383.9 364.2M381.3 366.9A104.8 104.8 0 0 1 380.2 368.3M376.7 364.4L380.7 367.6M376.7 364.4A99.6 99.6 0 0 1 374 367.6M372.3 363.4L375.4 366M376.1 358.5A95.6 95.6 0 0 1 372.3 363.4M373.3 360.2L374.2 361M381.4 348A94.4 94.4 0 0 1 373.3 360.2M372.3 350.7L377.6 354.3M381.5 332.7A88 88 0 0 1 372.3 350.7" fill="none" stroke="#8e76a0" stroke-width="0.65"/>
<path d="M254.9 338.2A57 57 0 0 1 249.5 330.3M249.5 330.3L219.1 347.6M254.9 338.2L224.8 362.9M285.8 311.1L252.1 334.3" fill="none" stroke="#c2a466" stroke-width="0.8"/>
<path d="M241.4 324.9A62 62 0 0 1 238.2 314.3M238.2 314.3L201 321.8M241.4 324.9L157.8 358.2M265.5 312A35 35 0 0 1 265.2 292.8M265.5 312L239.6 319.7M265.2 292.8L252.7 289.4M283 302.2L264 302.4" fill="none" stroke="#5a5ac0" stroke-width="0.8"/>
<path d="M241.3 285.6A60 60 0 0 1 246.9 272.2M241.3 285.6L204.7 275.3" fill="none" stroke="#9270c0" stroke-width="0.8"/>
<path d="M246.9 272.2L238.3 267.2M285.8 311.1A16 16 0 0 1 283 302.2M298 302.3L283.8 306.8" fill="none" stroke="#e0e080" stroke-width="0.8"/>
<path d="M251.4 295.7A48 48 0 0 1 254.8 283.4M251.4 295.7L199.9 288.9M254.8 283.4L243.7 278.7" fill="none" stroke="#6a986a" stroke-width="0.8"/>
<path d="M327.7 216.7A90 90 0 0 1 345.5 225M327.7 216.7L330.9 207.2M345.5 225L352.8 213" fill="none" stroke="#74969c" stroke-width="0.8"/>
<path d="M382 314.9A84 84 0 0 1 373.8 340.2M382 314.9L393.9 316.7M373.8 340.2L379.2 342.9" fill="none" stroke="#9a98b2" stroke-width="0.8"/>
<path d="M376.1 290.4A78 78 0 0 1 373.2 326M376.1 290.4L388 288.6M373.2 326L378.9 327.8" fill="none" stroke="#9a9aa2" stroke-width="0.8"/>
<path d="M356.4 258.6A72 72 0 0 1 370.8 307.9M356.4 258.6L370.8 247.7M370.8 307.9L376.7 308.4" fill="none" stroke="#9c9c9c" stroke-width="0.8"/>
<path d="M325.1 245.7A62 62 0 0 1 358.5 284.7M325.1 245.7L336.8 220.3M358.5 284.7L368.1 281.9" fill="none" stroke="#8a9aa0" stroke-width="0.8"/>
<path d="M285 259.2A45 45 0 0 1 333.1 272.7M285 259.2L273.5 224.1M333.1 272.7L346 261.6M301.2 294.3L311.1 258.7" fill="none" stroke="#a08888" stroke-width="0.8"/>
<path d="M293.2 296.5A8 8 0 0 1 301.2 294.3M298.7 301L296.9 294.3" fill="none" stroke="#9088b0" stroke-width="0.8"/>
<path d="M293.2 296.5L245.2 251.2" fill="none" stroke="#6a66b8" stroke-width="0.8"/>
<path d="M298 302.3A1 1 0 0 1 298.7 301" fill="none" stroke="#b0a8a0" stroke-width="0.8"/>
<path d="M197.1 193L215.3 176.4" stroke="#9a7a6a" stroke-width="0.9" fill="none"/>
<path d="M217.5 174.5L250 162" stroke="#9a7a6a" stroke-width="0.9" fill="none"/>
<path d="M252 161L278 152.2" stroke="#9a7a6a" stroke-width="0.9" fill="none"/>
<path d="M280 151.8L307.3 147.5" stroke="#9a7a6a" stroke-width="0.9" fill="none"/>
<path d="M311.8 148.4L332.7 159.1" stroke="#9a7a6a" stroke-width="0.9" fill="none"/>
<path d="M344 151.8L366.9 159.8" stroke="#8a9aa6" stroke-width="0.9" fill="none"/>
<path d="M369 168.2L385.7 177.6" stroke="#8a9aa6" stroke-width="0.9" fill="none"/>
<path d="M159,245 Q149,262 154.5,279" stroke="#9a70d0" stroke-width="0.8" fill="none"/>
<path d="M153.5,237 Q158,215 172.6,204" stroke="#e8e890" stroke-width="0.9" fill="none"/>
<path d="M143.5,310.6 Q134,333 153.3,355.6" stroke="#5a5ac8" stroke-width="0.8" fill="none"/>
<path d="M386.22 176.67A135.5 135.5 0 0 1 437.78 228.5" stroke="#9a9a9a" stroke-width="0.9" fill="none"/>
<path d="M454.79 287.04A135.5 135.5 0 0 1 408.4 396.86" stroke="#9a9a9a" stroke-width="0.9" fill="none"/>
<path d="M112.4 149L130 183.6L176 183.6" stroke="#333" stroke-width="0.9" fill="none"/>
<path d="M277.6 98L271.3 135" stroke="#333" stroke-width="0.9" fill="none"/>
<path d="M350.9 90L345 140" stroke="#333" stroke-width="0.9" fill="none"/>
<path d="M398.7 70.3L398.7 90.6" stroke="#333" stroke-width="0.9" fill="none"/>
<path d="M445 57.5L368.2 117.2" stroke="#333" stroke-width="0.9" fill="none"/>
<path d="M388.9 114.1L400.3 105.8L444.2 106.5" stroke="#333" stroke-width="0.9" fill="none"/>
<path d="M407.5 163.2L419.5 151L443.3 151" stroke="#333" stroke-width="0.9" fill="none"/>
<path d="M49.8 256.2L52 268.2L95 272.7" stroke="#333" stroke-width="0.9" fill="none"/>
<path d="M94.8 402.6L141 394.6" stroke="#333" stroke-width="0.9" fill="none"/>
<path d="M443.2 356.6L504.3 390.7" stroke="#333" stroke-width="0.9" fill="none"/>
<path d="M462.2 367.3L462.2 400" stroke="#333" stroke-width="0.9" fill="none"/>
<text x="188.9" y="172.88" font-size="6.89" fill="#82401f" stroke="#82401f" stroke-width="0.28" text-anchor="middle" font-weight="bold" font-style="normal" textLength="40.89" lengthAdjust="spacingAndGlyphs" transform="rotate(39.5 188.9 170.4)">Pitheciidae</text>
<text x="221" y="158.98" font-size="6.89" fill="#82401f" stroke="#82401f" stroke-width="0.28" text-anchor="middle" font-weight="bold" font-style="normal" textLength="30.45" lengthAdjust="spacingAndGlyphs" transform="rotate(43.8 221 156.5)">Atelidae</text>
<text x="186.7" y="193.68" font-size="6.89" fill="#2e2a86" stroke="#2e2a86" stroke-width="0.28" text-anchor="middle" font-weight="bold" font-style="normal" textLength="32.96" lengthAdjust="spacingAndGlyphs" transform="rotate(40.6 186.7 191.2)">Tarsiidae</text>
<text x="261" y="153.48" font-size="6.89" fill="#82401f" stroke="#82401f" stroke-width="0.28" text-anchor="middle" font-weight="bold" font-style="normal" textLength="28.28" lengthAdjust="spacingAndGlyphs" transform="rotate(-15 261 151)">Aotidae</text>
<text x="292" y="141.48" font-size="6.89" fill="#82401f" stroke="#82401f" stroke-width="0.28" text-anchor="middle" font-weight="bold" font-style="normal" textLength="48.54" lengthAdjust="spacingAndGlyphs" transform="rotate(-7.6 292 139)">Callitrichidae</text>
<text x="324.5" y="151.48" font-size="6.89" fill="#82401f" stroke="#82401f" stroke-width="0.28" text-anchor="middle" font-weight="bold" font-style="normal" textLength="29.51" lengthAdjust="spacingAndGlyphs" transform="rotate(20 324.5 149)">Cebidae</text>
<text x="363.3" y="152.28" font-size="6.89" fill="#3a6690" stroke="#3a6690" stroke-width="0.28" text-anchor="middle" font-weight="bold" font-style="normal" textLength="39.21" lengthAdjust="spacingAndGlyphs" transform="rotate(12 363.3 149.8)">Hominidae</text>
<text x="392" y="170.48" font-size="6.89" fill="#3a6690" stroke="#3a6690" stroke-width="0.28" text-anchor="middle" font-weight="bold" font-style="normal" textLength="44.19" lengthAdjust="spacingAndGlyphs" transform="rotate(6.4 392 168)">Hylobatidae</text>
<text x="446.6" y="260.98" font-size="6.89" fill="#111" stroke="#111" stroke-width="0.28" text-anchor="middle" font-weight="bold" font-style="normal" textLength="59.26" lengthAdjust="spacingAndGlyphs" transform="rotate(69.4 446.6 258.5)">Cercopithecidae</text>
<text x="139.3" y="216.08" font-size="6.89" fill="#e4e45a" stroke="#e4e45a" stroke-width="0.28" text-anchor="middle" font-weight="bold" font-style="normal" textLength="55.06" lengthAdjust="spacingAndGlyphs" transform="rotate(12.5 139.3 213.6)">Cheirogaleidae</text>
<text x="126.7" y="255.88" font-size="6.89" fill="#7a3ec8" stroke="#7a3ec8" stroke-width="0.28" text-anchor="middle" font-weight="bold" font-style="normal" textLength="52.35" lengthAdjust="spacingAndGlyphs" transform="rotate(9.5 126.7 253.4)">Lepilemuridae</text>
<text x="121.7" y="278.28" font-size="6.89" fill="#7a3ec8" stroke="#7a3ec8" stroke-width="0.28" text-anchor="middle" font-weight="bold" font-style="normal" textLength="55.06" lengthAdjust="spacingAndGlyphs" transform="rotate(4.6 121.7 275.8)">Cheirogaleidae</text>
<text x="134.9" y="291.48" font-size="6.89" fill="#3c6e2c" stroke="#3c6e2c" stroke-width="0.28" text-anchor="middle" font-weight="bold" font-style="normal" textLength="32.81" lengthAdjust="spacingAndGlyphs">Indriidae</text>
<text x="119.1" y="304.48" font-size="6.89" fill="#3c6e2c" stroke="#3c6e2c" stroke-width="0.28" text-anchor="middle" font-weight="bold" font-style="normal" textLength="66.9" lengthAdjust="spacingAndGlyphs">Archaeolemuridae</text>
<text x="122.9" y="340.98" font-size="6.89" fill="#2c2cb4" stroke="#2c2cb4" stroke-width="0.28" text-anchor="middle" font-weight="bold" font-style="normal" textLength="38.83" lengthAdjust="spacingAndGlyphs">Lemuridae</text>
<text x="123.4" y="362.98" font-size="6.89" fill="#2c2cb4" stroke="#2c2cb4" stroke-width="0.28" text-anchor="middle" font-weight="bold" font-style="normal" textLength="58.2" lengthAdjust="spacingAndGlyphs">Daubentoniidae</text>
<text x="147.6" y="377.78" font-size="6.89" fill="#b7a232" stroke="#b7a232" stroke-width="0.28" text-anchor="middle" font-weight="bold" font-style="normal" textLength="36.67" lengthAdjust="spacingAndGlyphs">Galagidae</text>
<text x="160.6" y="395.08" font-size="6.89" fill="#b7a232" stroke="#b7a232" stroke-width="0.28" text-anchor="middle" font-weight="bold" font-style="normal" textLength="38.05" lengthAdjust="spacingAndGlyphs">Lorisoidea</text>
<rect x="153.4" y="26.3" width="62.3" height="64.5" fill="#fff" stroke="#555" stroke-width="0.8"/>
<rect x="156.8" y="30.7" width="8.1" height="4" fill="#8e97c4"/>
<text x="167" y="35" font-size="6.36" fill="#333" stroke="#333" stroke-width="0.18" text-anchor="start" font-weight="normal" font-style="normal" textLength="16.52" lengthAdjust="spacingAndGlyphs">LINEs</text>
<rect x="156.8" y="41.7" width="8.1" height="4" fill="#d6a482"/>
<text x="167" y="46" font-size="6.36" fill="#333" stroke="#333" stroke-width="0.18" text-anchor="start" font-weight="normal" font-style="normal" textLength="16.98" lengthAdjust="spacingAndGlyphs">SINEs</text>
<rect x="156.8" y="52.3" width="8.1" height="4" fill="#ecea9a"/>
<text x="167" y="56.6" font-size="6.36" fill="#333" stroke="#333" stroke-width="0.18" text-anchor="start" font-weight="normal" font-style="normal" textLength="13.21" lengthAdjust="spacingAndGlyphs">DNA</text>
<rect x="156.8" y="62.8" width="8.1" height="4" fill="#b9c79a"/>
<text x="167" y="67.1" font-size="6.36" fill="#333" stroke="#333" stroke-width="0.18" text-anchor="start" font-weight="normal" font-style="normal" textLength="10.35" lengthAdjust="spacingAndGlyphs">LTR</text>
<rect x="156.8" y="73.1" width="8.1" height="4" fill="#a49a9a"/>
<text x="167" y="77.4" font-size="6.36" fill="#333" stroke="#333" stroke-width="0.18" text-anchor="start" font-weight="normal" font-style="normal" textLength="45.08" lengthAdjust="spacingAndGlyphs">Simple repeats</text>
<rect x="156.8" y="83.6" width="8.1" height="4" fill="#7a3512"/>
<text x="167" y="87.9" font-size="6.36" fill="#333" stroke="#333" stroke-width="0.18" text-anchor="start" font-weight="normal" font-style="normal" textLength="24.57" lengthAdjust="spacingAndGlyphs">Satellite</text>
<g stroke-linejoin="round">
<path d="M108,118L108,94A24,24 0 0 1 130.99,111.12Z" fill="#8a3413" stroke="#3b3b30" stroke-width="0.75"/>
<path d="M108,118L130.99,111.12A24,24 0 0 1 131.94,116.29Z" fill="#b3a3a6" stroke="#3b3b30" stroke-width="0.75"/>
<path d="M108,118L131.94,116.29A24,24 0 0 1 126.08,133.78Z" fill="#b9d89a" stroke="#3b3b30" stroke-width="0.75"/>
<path d="M108,118L126.08,133.78A24,24 0 0 1 117.93,139.85Z" fill="#f7ef9c" stroke="#3b3b30" stroke-width="0.75"/>
<path d="M108,118L117.93,139.85A24,24 0 0 1 87.37,130.27Z" fill="#f2a282" stroke="#3b3b30" stroke-width="0.75"/>
<path d="M108,118L87.37,130.27A24,24 0 0 1 108,94Z" fill="#8ea2c9" stroke="#3b3b30" stroke-width="0.75"/>
<clipPath id="cp0"><path d="M108,118L108.8,95.01A23,23 0 0 1 129.79,110.64Z"/></clipPath>
<rect x="112" y="96" width="16" height="15" fill="#e41a14" clip-path="url(#cp0)"/>
<rect x="104.8" y="94.5" width="2.6" height="23" fill="#d46ec4" opacity="0.75"/>
<circle cx="108" cy="118" r="24" fill="none" stroke="#3b3b30" stroke-width="0.9"/>
<text x="115.1" y="108.7" font-size="6.36" fill="#5a1a0a" stroke="#5a1a0a" stroke-width="0.18" text-anchor="middle" font-weight="normal" font-style="normal" textLength="9.54" lengthAdjust="spacingAndGlyphs">9.9</text>
<text x="135.5" y="115.2" font-size="6.36" fill="#333" stroke="#333" stroke-width="0.18" text-anchor="middle" font-weight="normal" font-style="normal" textLength="9.54" lengthAdjust="spacingAndGlyphs">1.7</text>
<text x="120.3" y="124.3" font-size="6.36" fill="#2f4f22" stroke="#2f4f22" stroke-width="0.18" text-anchor="middle" font-weight="normal" font-style="normal" textLength="9.54" lengthAdjust="spacingAndGlyphs">6.1</text>
<text x="126.8" y="143.2" font-size="6.36" fill="#333" stroke="#333" stroke-width="0.18" text-anchor="middle" font-weight="normal" font-style="normal" textLength="9.54" lengthAdjust="spacingAndGlyphs">3.3</text>
<text x="102.8" y="136" font-size="6.36" fill="#7a2a22" stroke="#7a2a22" stroke-width="0.18" text-anchor="middle" font-weight="normal" font-style="normal" textLength="13.36" lengthAdjust="spacingAndGlyphs">11.3</text>
<text x="95" y="115.2" font-size="6.36" fill="#1f2f52" stroke="#1f2f52" stroke-width="0.18" text-anchor="middle" font-weight="normal" font-style="normal" textLength="13.36" lengthAdjust="spacingAndGlyphs">16.3</text>
<text x="81.6" y="91" font-size="6.36" fill="#333" stroke="#333" stroke-width="0.18" text-anchor="start" font-weight="normal" font-style="italic" textLength="46.75" lengthAdjust="spacingAndGlyphs">Tarsius syrichta</text>
<path d="M287,74L287,50A24,24 0 0 1 307.13,60.93Z" fill="#8a3413" stroke="#3b3b30" stroke-width="0.75"/>
<path d="M287,74L307.13,60.93A24,24 0 0 1 308.75,63.86Z" fill="#b3a3a6" stroke="#3b3b30" stroke-width="0.75"/>
<path d="M287,74L308.75,63.86A24,24 0 0 1 309.69,81.81Z" fill="#b9d89a" stroke="#3b3b30" stroke-width="0.75"/>
<path d="M287,74L309.69,81.81A24,24 0 0 1 305.91,88.78Z" fill="#f7ef9c" stroke="#3b3b30" stroke-width="0.75"/>
<path d="M287,74L305.91,88.78A24,24 0 0 1 299,94.78Z" fill="#b9d89a" stroke="#3b3b30" stroke-width="0.75"/>
<path d="M287,74L299,94.78A24,24 0 0 1 268.61,89.43Z" fill="#f2a282" stroke="#3b3b30" stroke-width="0.75"/>
<path d="M287,74L268.61,89.43A24,24 0 0 1 287,50Z" fill="#8ea2c9" stroke="#3b3b30" stroke-width="0.75"/>
<clipPath id="cp1"><path d="M287,74L287.8,51.01A23,23 0 0 1 305.84,60.81Z"/></clipPath>
<rect x="288" y="56" width="16" height="18" fill="#e41a14" clip-path="url(#cp1)"/>
<rect x="283.8" y="50.5" width="2.6" height="23" fill="#d46ec4" opacity="0.75"/>
<circle cx="287" cy="74" r="24" fill="none" stroke="#3b3b30" stroke-width="0.9"/>
<text x="295.9" y="60.8" font-size="6.36" fill="#5a1a0a" stroke="#5a1a0a" stroke-width="0.18" text-anchor="middle" font-weight="normal" font-style="normal" textLength="9.54" lengthAdjust="spacingAndGlyphs">9.9</text>
<text x="312.4" y="62.8" font-size="6.36" fill="#333" stroke="#333" stroke-width="0.18" text-anchor="middle" font-weight="normal" font-style="normal" textLength="9.54" lengthAdjust="spacingAndGlyphs">1.4</text>
<text x="303.9" y="73.9" font-size="6.36" fill="#2f4f22" stroke="#2f4f22" stroke-width="0.18" text-anchor="middle" font-weight="normal" font-style="normal" textLength="9.54" lengthAdjust="spacingAndGlyphs">7.5</text>
<text x="322.6" y="73.9" font-size="6.36" fill="#333" stroke="#333" stroke-width="0.18" text-anchor="middle" font-weight="normal" font-style="normal" textLength="9.54" lengthAdjust="spacingAndGlyphs">3.9</text>
<text x="313" y="90.2" font-size="6.36" fill="#333" stroke="#333" stroke-width="0.18" text-anchor="middle" font-weight="normal" font-style="normal" textLength="9.54" lengthAdjust="spacingAndGlyphs">3.3</text>
<text x="293.3" y="94.4" font-size="6.36" fill="#7a2a22" stroke="#7a2a22" stroke-width="0.18" text-anchor="middle" font-weight="normal" font-style="normal" textLength="13.36" lengthAdjust="spacingAndGlyphs">13.7</text>
<text x="276.3" y="73.3" font-size="6.36" fill="#1f2f52" stroke="#1f2f52" stroke-width="0.18" text-anchor="middle" font-weight="normal" font-style="normal" textLength="13.36" lengthAdjust="spacingAndGlyphs">22.5</text>
<text x="260.3" y="46.3" font-size="6.89" fill="#333" stroke="#333" stroke-width="0.18" text-anchor="start" font-weight="normal" font-style="italic" textLength="55.56" lengthAdjust="spacingAndGlyphs">Callithrix jacchus</text>
<path d="M356,65L356,41A24,24 0 0 1 364.99,87.25Z" fill="#8ea2c9" stroke="#3b3b30" stroke-width="0.75"/>
<path d="M356,65L364.99,87.25A24,24 0 0 1 334.07,74.76Z" fill="#f2a282" stroke="#3b3b30" stroke-width="0.75"/>
<path d="M356,65L334.07,74.76A24,24 0 0 1 332.01,64.16Z" fill="#f7ef9c" stroke="#3b3b30" stroke-width="0.75"/>
<path d="M356,65L332.01,64.16A24,24 0 0 1 345.86,43.25Z" fill="#b9d89a" stroke="#3b3b30" stroke-width="0.75"/>
<path d="M356,65L345.86,43.25A24,24 0 0 1 351.83,41.36Z" fill="#b3a3a6" stroke="#3b3b30" stroke-width="0.75"/>
<path d="M356,65L351.83,41.36A24,24 0 0 1 356,41Z" fill="#8a3413" stroke="#3b3b30" stroke-width="0.75"/>
<rect x="356.6" y="41.5" width="2.6" height="23" fill="#d46ec4" opacity="0.75"/>
<circle cx="356" cy="65" r="24" fill="none" stroke="#3b3b30" stroke-width="0.9"/>
<text x="344.6" y="41.2" font-size="6.36" fill="#333" stroke="#333" stroke-width="0.18" text-anchor="middle" font-weight="normal" font-style="normal" textLength="9.54" lengthAdjust="spacingAndGlyphs">2.0</text>
<text x="358.3" y="39.4" font-size="6.36" fill="#333" stroke="#333" stroke-width="0.18" text-anchor="middle" font-weight="normal" font-style="normal" textLength="9.54" lengthAdjust="spacingAndGlyphs">1.3</text>
<text x="368.5" y="64.8" font-size="6.36" fill="#1f2f52" stroke="#1f2f52" stroke-width="0.18" text-anchor="middle" font-weight="normal" font-style="normal" textLength="13.36" lengthAdjust="spacingAndGlyphs">21.2</text>
<text x="341.1" y="58.9" font-size="6.36" fill="#2f4f22" stroke="#2f4f22" stroke-width="0.18" text-anchor="middle" font-weight="normal" font-style="normal" textLength="9.54" lengthAdjust="spacingAndGlyphs">8.5</text>
<text x="350.9" y="84.3" font-size="6.36" fill="#7a2a22" stroke="#7a2a22" stroke-width="0.18" text-anchor="middle" font-weight="normal" font-style="normal" textLength="13.36" lengthAdjust="spacingAndGlyphs">11.8</text>
<text x="336" y="31.3" font-size="6.36" fill="#333" stroke="#333" stroke-width="0.18" text-anchor="start" font-weight="normal" font-style="italic" textLength="40" lengthAdjust="spacingAndGlyphs">Gorilla gorilla</text>
<path d="M410.2,46.6L410.2,22.6A24,24 0 0 1 421.62,25.49Z" fill="#8a3413" stroke="#3b3b30" stroke-width="0.75"/>
<path d="M410.2,46.6L421.62,25.49A24,24 0 0 1 426.34,28.84Z" fill="#b3a3a6" stroke="#3b3b30" stroke-width="0.75"/>
<path d="M410.2,46.6L426.34,28.84A24,24 0 0 1 433.64,51.75Z" fill="#b9d89a" stroke="#3b3b30" stroke-width="0.75"/>
<path d="M410.2,46.6L433.64,51.75A24,24 0 0 1 429.07,61.42Z" fill="#f7ef9c" stroke="#3b3b30" stroke-width="0.75"/>
<path d="M410.2,46.6L429.07,61.42A24,24 0 0 1 397,66.65Z" fill="#f2a282" stroke="#3b3b30" stroke-width="0.75"/>
<path d="M410.2,46.6L397,66.65A24,24 0 0 1 410.2,22.6Z" fill="#8ea2c9" stroke="#3b3b30" stroke-width="0.75"/>
<clipPath id="cp3"><path d="M410.2,46.6L411,23.61A23,23 0 0 1 420.43,26Z"/></clipPath>
<rect x="410.2" y="22.6" width="12" height="16" fill="#dc1a12" clip-path="url(#cp3)"/>
<rect x="407" y="23.1" width="2.6" height="23" fill="#d46ec4" opacity="0.75"/>
<circle cx="410.2" cy="46.6" r="24" fill="none" stroke="#3b3b30" stroke-width="0.9"/>
<text x="415.3" y="21.7" font-size="6.36" fill="#333" stroke="#333" stroke-width="0.18" text-anchor="middle" font-weight="normal" font-style="normal" textLength="9.54" lengthAdjust="spacingAndGlyphs">4.3</text>
<text x="428.9" y="26" font-size="6.36" fill="#333" stroke="#333" stroke-width="0.18" text-anchor="middle" font-weight="normal" font-style="normal" textLength="9.54" lengthAdjust="spacingAndGlyphs">2.1</text>
<text x="425.6" y="42.2" font-size="6.36" fill="#2f4f22" stroke="#2f4f22" stroke-width="0.18" text-anchor="middle" font-weight="normal" font-style="normal" textLength="9.54" lengthAdjust="spacingAndGlyphs">9.1</text>
<text x="438.1" y="58.8" font-size="6.36" fill="#333" stroke="#333" stroke-width="0.18" text-anchor="middle" font-weight="normal" font-style="normal" textLength="9.54" lengthAdjust="spacingAndGlyphs">3.9</text>
<text x="412.3" y="65.1" font-size="6.36" fill="#7a2a22" stroke="#7a2a22" stroke-width="0.18" text-anchor="middle" font-weight="normal" font-style="normal" textLength="13.36" lengthAdjust="spacingAndGlyphs">12.9</text>
<text x="397.7" y="46.7" font-size="6.36" fill="#1f2f52" stroke="#1f2f52" stroke-width="0.18" text-anchor="middle" font-weight="normal" font-style="normal" textLength="13.36" lengthAdjust="spacingAndGlyphs">22.2</text>
<text x="379.6" y="15.5" font-size="6.36" fill="#333" stroke="#333" stroke-width="0.18" text-anchor="start" font-weight="normal" font-style="italic" textLength="69.87" lengthAdjust="spacingAndGlyphs">Pongo pygmaeus abelii</text>
<path d="M468,41.5L468,17.5A24,24 0 0 1 477.15,19.31Z" fill="#8a3413" stroke="#3b3b30" stroke-width="0.75"/>
<path d="M468,41.5L477.15,19.31A24,24 0 0 1 481.41,21.59Z" fill="#b3a3a6" stroke="#3b3b30" stroke-width="0.75"/>
<path d="M468,41.5L481.41,21.59A24,24 0 0 1 491.91,43.63Z" fill="#b9d89a" stroke="#3b3b30" stroke-width="0.75"/>
<path d="M468,41.5L491.91,43.63A24,24 0 0 1 488.44,54.07Z" fill="#f7ef9c" stroke="#3b3b30" stroke-width="0.75"/>
<path d="M468,41.5L488.44,54.07A24,24 0 0 1 455.55,62.02Z" fill="#f2a282" stroke="#3b3b30" stroke-width="0.75"/>
<path d="M468,41.5L455.55,62.02A24,24 0 0 1 468,17.5Z" fill="#8ea2c9" stroke="#3b3b30" stroke-width="0.75"/>
<rect x="464.8" y="18" width="2.6" height="23" fill="#d46ec4" opacity="0.75"/>
<circle cx="468" cy="41.5" r="24" fill="none" stroke="#3b3b30" stroke-width="0.9"/>
<text x="471.7" y="19.6" font-size="6.36" fill="#333" stroke="#333" stroke-width="0.18" text-anchor="middle" font-weight="normal" font-style="normal" textLength="9.54" lengthAdjust="spacingAndGlyphs">3.3</text>
<text x="483.8" y="20.9" font-size="6.36" fill="#333" stroke="#333" stroke-width="0.18" text-anchor="middle" font-weight="normal" font-style="normal" textLength="9.54" lengthAdjust="spacingAndGlyphs">1.7</text>
<text x="485.6" y="36" font-size="6.36" fill="#2f4f22" stroke="#2f4f22" stroke-width="0.18" text-anchor="middle" font-weight="normal" font-style="normal" textLength="3.82" lengthAdjust="spacingAndGlyphs">9</text>
<text x="484.7" y="49.4" font-size="6.36" fill="#7a6a1a" stroke="#7a6a1a" stroke-width="0.18" text-anchor="middle" font-weight="normal" font-style="normal" textLength="9.54" lengthAdjust="spacingAndGlyphs">3.9</text>
<text x="471.2" y="60.9" font-size="6.36" fill="#7a2a22" stroke="#7a2a22" stroke-width="0.18" text-anchor="middle" font-weight="normal" font-style="normal" textLength="13.36" lengthAdjust="spacingAndGlyphs">13.2</text>
<text x="455.2" y="40.4" font-size="6.36" fill="#1f2f52" stroke="#1f2f52" stroke-width="0.18" text-anchor="middle" font-weight="normal" font-style="normal" textLength="13.36" lengthAdjust="spacingAndGlyphs">21.9</text>
<text x="449.5" y="10" font-size="6.36" fill="#333" stroke="#333" stroke-width="0.18" text-anchor="start" font-weight="normal" font-style="italic" textLength="47.17" lengthAdjust="spacingAndGlyphs">Pan troglodytes</text>
<path d="M468,109L468,85A24,24 0 0 1 475.15,86.09Z" fill="#8a3413" stroke="#3b3b30" stroke-width="0.75"/>
<path d="M468,109L475.15,86.09A24,24 0 0 1 479.17,87.76Z" fill="#b3a3a6" stroke="#3b3b30" stroke-width="0.75"/>
<path d="M468,109L479.17,87.76A24,24 0 0 1 492,109.07Z" fill="#b9d89a" stroke="#3b3b30" stroke-width="0.75"/>
<path d="M468,109L492,109.07A24,24 0 0 1 489.34,119.98Z" fill="#f7ef9c" stroke="#3b3b30" stroke-width="0.75"/>
<path d="M468,109L489.34,119.98A24,24 0 0 1 455.94,129.75Z" fill="#f2a282" stroke="#3b3b30" stroke-width="0.75"/>
<path d="M468,109L455.94,129.75A24,24 0 0 1 468,85Z" fill="#8ea2c9" stroke="#3b3b30" stroke-width="0.75"/>
<rect x="464.8" y="85.5" width="2.6" height="23" fill="#d46ec4" opacity="0.75"/>
<circle cx="468" cy="109" r="24" fill="none" stroke="#3b3b30" stroke-width="0.9"/>
<text x="480.3" y="103.8" font-size="6.36" fill="#2f4f22" stroke="#2f4f22" stroke-width="0.18" text-anchor="middle" font-weight="normal" font-style="normal" textLength="3.82" lengthAdjust="spacingAndGlyphs">9</text>
<text x="485.2" y="115.2" font-size="6.36" fill="#7a6a1a" stroke="#7a6a1a" stroke-width="0.18" text-anchor="middle" font-weight="normal" font-style="normal" textLength="9.54" lengthAdjust="spacingAndGlyphs">3.9</text>
<text x="471.6" y="126.4" font-size="6.36" fill="#7a2a22" stroke="#7a2a22" stroke-width="0.18" text-anchor="middle" font-weight="normal" font-style="normal" textLength="13.36" lengthAdjust="spacingAndGlyphs">13.4</text>
<text x="456.9" y="109.4" font-size="6.36" fill="#1f2f52" stroke="#1f2f52" stroke-width="0.18" text-anchor="middle" font-weight="normal" font-style="normal" textLength="13.36" lengthAdjust="spacingAndGlyphs">21.6</text>
<g transform="translate(470.6 81) rotate(-72)">
<text x="0" y="2.2" font-size="6.36" fill="#333" stroke="#333" stroke-width="0.18" text-anchor="middle" font-weight="normal" font-style="normal" textLength="9.54" lengthAdjust="spacingAndGlyphs">2.3</text>
</g>
<g transform="translate(478.6 82.2) rotate(-38)">
<text x="0" y="2.2" font-size="6.36" fill="#333" stroke="#333" stroke-width="0.18" text-anchor="middle" font-weight="normal" font-style="normal" textLength="9.54" lengthAdjust="spacingAndGlyphs">1.5</text>
</g>
<text x="447.4" y="73.4" font-size="6.36" fill="#333" stroke="#333" stroke-width="0.18" text-anchor="start" font-weight="normal" font-style="italic" textLength="42.5" lengthAdjust="spacingAndGlyphs">Homo sapiens</text>
<path d="M467.3,164L467.3,140A24,24 0 0 1 481.54,144.68Z" fill="#8a3413" stroke="#3b3b30" stroke-width="0.75"/>
<path d="M467.3,164L481.54,144.68A24,24 0 0 1 484.47,147.23Z" fill="#b3a3a6" stroke="#3b3b30" stroke-width="0.75"/>
<path d="M467.3,164L484.47,147.23A24,24 0 0 1 490.78,168.95Z" fill="#b9d89a" stroke="#3b3b30" stroke-width="0.75"/>
<path d="M467.3,164L490.78,168.95A24,24 0 0 1 486.28,178.68Z" fill="#f7ef9c" stroke="#3b3b30" stroke-width="0.75"/>
<path d="M467.3,164L486.28,178.68A24,24 0 0 1 453.28,183.48Z" fill="#f2a282" stroke="#3b3b30" stroke-width="0.75"/>
<path d="M467.3,164L453.28,183.48A24,24 0 0 1 467.3,140Z" fill="#8ea2c9" stroke="#3b3b30" stroke-width="0.75"/>
<clipPath id="cp6"><path d="M467.3,164L468.1,141.01A23,23 0 0 1 480.29,145.02Z"/></clipPath>
<rect x="470.8" y="144" width="10" height="9" fill="#e41a14" clip-path="url(#cp6)"/>
<rect x="464.1" y="140.5" width="2.6" height="23" fill="#d46ec4" opacity="0.75"/>
<circle cx="467.3" cy="164" r="24" fill="none" stroke="#3b3b30" stroke-width="0.9"/>
<text x="473.4" y="149.8" font-size="6.36" fill="#5a1a0a" stroke="#5a1a0a" stroke-width="0.18" text-anchor="middle" font-weight="normal" font-style="normal" textLength="9.54" lengthAdjust="spacingAndGlyphs">5.5</text>
<text x="486.4" y="144.6" font-size="6.36" fill="#333" stroke="#333" stroke-width="0.18" text-anchor="middle" font-weight="normal" font-style="normal" textLength="9.54" lengthAdjust="spacingAndGlyphs">1.4</text>
<text x="482" y="160.2" font-size="6.36" fill="#2f4f22" stroke="#2f4f22" stroke-width="0.18" text-anchor="middle" font-weight="normal" font-style="normal" textLength="9.54" lengthAdjust="spacingAndGlyphs">8.5</text>
<text x="484.7" y="172.7" font-size="6.36" fill="#7a6a1a" stroke="#7a6a1a" stroke-width="0.18" text-anchor="middle" font-weight="normal" font-style="normal" textLength="9.54" lengthAdjust="spacingAndGlyphs">3.9</text>
<text x="470.8" y="180.7" font-size="6.36" fill="#7a2a22" stroke="#7a2a22" stroke-width="0.18" text-anchor="middle" font-weight="normal" font-style="normal" textLength="13.36" lengthAdjust="spacingAndGlyphs">13.3</text>
<text x="456.9" y="162.8" font-size="6.36" fill="#1f2f52" stroke="#1f2f52" stroke-width="0.18" text-anchor="middle" font-weight="normal" font-style="normal" textLength="13.36" lengthAdjust="spacingAndGlyphs">21.8</text>
<text x="425.1" y="138.8" font-size="6.36" fill="#333" stroke="#333" stroke-width="0.18" text-anchor="start" font-weight="normal" font-style="italic" textLength="67.05" lengthAdjust="spacingAndGlyphs">Nomascus leucogenys</text>
<path d="M39.5,232.5L39.5,208.5A24,24 0 0 1 63.03,227.77Z" fill="#8a3413" stroke="#3b3b30" stroke-width="0.75"/>
<path d="M39.5,232.5L63.03,227.77A24,24 0 0 1 63.49,231.67Z" fill="#b3a3a6" stroke="#3b3b30" stroke-width="0.75"/>
<path d="M39.5,232.5L63.49,231.67A24,24 0 0 1 56.92,249.01Z" fill="#b9d89a" stroke="#3b3b30" stroke-width="0.75"/>
<path d="M39.5,232.5L56.92,249.01A24,24 0 0 1 47.36,255.18Z" fill="#f7ef9c" stroke="#3b3b30" stroke-width="0.75"/>
<path d="M39.5,232.5L47.36,255.18A24,24 0 0 1 23.15,250.07Z" fill="#f2a282" stroke="#3b3b30" stroke-width="0.75"/>
<path d="M39.5,232.5L23.15,250.07A24,24 0 0 1 39.5,208.5Z" fill="#8ea2c9" stroke="#3b3b30" stroke-width="0.75"/>
<clipPath id="cp7"><path d="M39.5,232.5L40.3,209.51A23,23 0 0 1 61.88,227.18Z"/></clipPath>
<rect x="40" y="209" width="17" height="22" fill="#e41a14" clip-path="url(#cp7)"/>
<rect x="36.3" y="209" width="2.6" height="23" fill="#d46ec4" opacity="0.75"/>
<circle cx="39.5" cy="232.5" r="24" fill="none" stroke="#3b3b30" stroke-width="0.9"/>
<text x="50.3" y="224.3" font-size="6.36" fill="#5a1a0a" stroke="#5a1a0a" stroke-width="0.18" text-anchor="middle" font-weight="normal" font-style="normal" textLength="13.36" lengthAdjust="spacingAndGlyphs">10.9</text>
<text x="68.6" y="230.7" font-size="6.36" fill="#333" stroke="#333" stroke-width="0.18" text-anchor="middle" font-weight="normal" font-style="normal" textLength="9.54" lengthAdjust="spacingAndGlyphs">1.3</text>
<text x="55.2" y="239.1" font-size="6.36" fill="#2f4f22" stroke="#2f4f22" stroke-width="0.18" text-anchor="middle" font-weight="normal" font-style="normal" textLength="9.54" lengthAdjust="spacingAndGlyphs">6.3</text>
<text x="50.7" y="249.5" font-size="6.36" fill="#7a6a1a" stroke="#7a6a1a" stroke-width="0.18" text-anchor="middle" font-weight="normal" font-style="normal" textLength="9.54" lengthAdjust="spacingAndGlyphs">3.8</text>
<text x="36.5" y="252.6" font-size="6.36" fill="#7a2a22" stroke="#7a2a22" stroke-width="0.18" text-anchor="middle" font-weight="normal" font-style="normal" textLength="9.54" lengthAdjust="spacingAndGlyphs">8.6</text>
<text x="22.6" y="232.2" font-size="6.36" fill="#1f2f52" stroke="#1f2f52" stroke-width="0.18" text-anchor="middle" font-weight="normal" font-style="normal" textLength="7.63" lengthAdjust="spacingAndGlyphs">19</text>
<text x="6.1" y="206.5" font-size="6.36" fill="#333" stroke="#333" stroke-width="0.18" text-anchor="start" font-weight="normal" font-style="italic" textLength="60.43" lengthAdjust="spacingAndGlyphs">Microcebus murinus</text>
<path d="M70.1,400.2L70.1,376.2A24,24 0 0 1 93.87,396.85Z" fill="#8a3413" stroke="#3b3b30" stroke-width="0.75"/>
<path d="M70.1,400.2L93.87,396.85A24,24 0 0 1 94.1,400.42Z" fill="#b3a3a6" stroke="#3b3b30" stroke-width="0.75"/>
<path d="M70.1,400.2L94.1,400.42A24,24 0 0 1 89.29,414.61Z" fill="#b9d89a" stroke="#3b3b30" stroke-width="0.75"/>
<path d="M70.1,400.2L89.29,414.61A24,24 0 0 1 80.9,421.63Z" fill="#f7ef9c" stroke="#3b3b30" stroke-width="0.75"/>
<path d="M70.1,400.2L80.9,421.63A24,24 0 0 1 49.57,412.63Z" fill="#f2a282" stroke="#3b3b30" stroke-width="0.75"/>
<path d="M70.1,400.2L49.57,412.63A24,24 0 0 1 70.1,376.2Z" fill="#8ea2c9" stroke="#3b3b30" stroke-width="0.75"/>
<clipPath id="cp8"><path d="M70.1,400.2L70.9,377.21A23,23 0 0 1 92.75,396.2Z"/></clipPath>
<rect x="71.7" y="377.2" width="15.5" height="20" fill="#e41a14" clip-path="url(#cp8)"/>
<rect x="66.9" y="376.7" width="2.6" height="23" fill="#d46ec4" opacity="0.75"/>
<circle cx="70.1" cy="400.2" r="24" fill="none" stroke="#3b3b30" stroke-width="0.9"/>
<text x="80.3" y="389.8" font-size="6.36" fill="#5a1a0a" stroke="#5a1a0a" stroke-width="0.18" text-anchor="middle" font-weight="normal" font-style="normal" textLength="13.36" lengthAdjust="spacingAndGlyphs">11.5</text>
<text x="99.4" y="399.3" font-size="6.36" fill="#333" stroke="#333" stroke-width="0.18" text-anchor="middle" font-weight="normal" font-style="normal" textLength="9.54" lengthAdjust="spacingAndGlyphs">1.2</text>
<text x="85.9" y="407.5" font-size="6.36" fill="#2f4f22" stroke="#2f4f22" stroke-width="0.18" text-anchor="middle" font-weight="normal" font-style="normal" textLength="9.54" lengthAdjust="spacingAndGlyphs">5.1</text>
<text x="89.9" y="423.1" font-size="6.36" fill="#333" stroke="#333" stroke-width="0.18" text-anchor="middle" font-weight="normal" font-style="normal" textLength="9.54" lengthAdjust="spacingAndGlyphs">3.7</text>
<text x="65.6" y="416.7" font-size="6.36" fill="#7a2a22" stroke="#7a2a22" stroke-width="0.18" text-anchor="middle" font-weight="normal" font-style="normal" textLength="7.63" lengthAdjust="spacingAndGlyphs">12</text>
<text x="56" y="395.8" font-size="6.36" fill="#1f2f52" stroke="#1f2f52" stroke-width="0.18" text-anchor="middle" font-weight="normal" font-style="normal" textLength="7.63" lengthAdjust="spacingAndGlyphs">17</text>
<text x="40.8" y="431" font-size="6.36" fill="#333" stroke="#333" stroke-width="0.18" text-anchor="start" font-weight="normal" font-style="italic" textLength="55.61" lengthAdjust="spacingAndGlyphs">Otolemur garnettii</text>
<path d="M457,423.7L457,399.7A24,24 0 0 1 474.75,407.55Z" fill="#8a3413" stroke="#3b3b30" stroke-width="0.75"/>
<path d="M457,423.7L474.75,407.55A24,24 0 0 1 477.09,410.57Z" fill="#b3a3a6" stroke="#3b3b30" stroke-width="0.75"/>
<path d="M457,423.7L477.09,410.57A24,24 0 0 1 478.14,435.06Z" fill="#b9d89a" stroke="#3b3b30" stroke-width="0.75"/>
<path d="M457,423.7L478.14,435.06A24,24 0 0 1 472.06,442.38Z" fill="#f7ef9c" stroke="#3b3b30" stroke-width="0.75"/>
<path d="M457,423.7L472.06,442.38A24,24 0 0 1 438.62,439.13Z" fill="#f2a282" stroke="#3b3b30" stroke-width="0.75"/>
<path d="M457,423.7L438.62,439.13A24,24 0 0 1 457,399.7Z" fill="#8ea2c9" stroke="#3b3b30" stroke-width="0.75"/>
<clipPath id="cp9"><path d="M457,423.7L457.8,400.71A23,23 0 0 1 473.46,407.64Z"/></clipPath>
<rect x="457" y="399.7" width="13" height="16" fill="#e41a14" clip-path="url(#cp9)"/>
<rect x="453.8" y="400.2" width="2.6" height="23" fill="#d46ec4" opacity="0.75"/>
<circle cx="457" cy="423.7" r="24" fill="none" stroke="#3b3b30" stroke-width="0.9"/>
<text x="464.2" y="411.3" font-size="6.36" fill="#5a1a0a" stroke="#5a1a0a" stroke-width="0.18" text-anchor="middle" font-weight="normal" font-style="normal" textLength="9.54" lengthAdjust="spacingAndGlyphs">7.3</text>
<text x="480.8" y="409" font-size="6.36" fill="#333" stroke="#333" stroke-width="0.18" text-anchor="middle" font-weight="normal" font-style="normal" textLength="9.54" lengthAdjust="spacingAndGlyphs">1.4</text>
<text x="472" y="422.9" font-size="6.36" fill="#2f4f22" stroke="#2f4f22" stroke-width="0.18" text-anchor="middle" font-weight="normal" font-style="normal" textLength="9.54" lengthAdjust="spacingAndGlyphs">9.4</text>
<text x="472" y="436" font-size="6.36" fill="#7a6a1a" stroke="#7a6a1a" stroke-width="0.18" text-anchor="middle" font-weight="normal" font-style="normal" textLength="9.54" lengthAdjust="spacingAndGlyphs">3.5</text>
<text x="459.2" y="445.6" font-size="6.36" fill="#7a2a22" stroke="#7a2a22" stroke-width="0.18" text-anchor="middle" font-weight="normal" font-style="normal" textLength="13.36" lengthAdjust="spacingAndGlyphs">13.6</text>
<text x="445.3" y="417.1" font-size="6.36" fill="#1f2f52" stroke="#1f2f52" stroke-width="0.18" text-anchor="middle" font-weight="normal" font-style="normal" textLength="13.36" lengthAdjust="spacingAndGlyphs">19.9</text>
<text x="429.3" y="455.6" font-size="6.36" fill="#333" stroke="#333" stroke-width="0.18" text-anchor="start" font-weight="normal" font-style="italic" textLength="48.08" lengthAdjust="spacingAndGlyphs">Macaca mulatta</text>
<path d="M513,416.6L513,392.6A24,24 0 0 1 528.95,398.66Z" fill="#8a3413" stroke="#3b3b30" stroke-width="0.75"/>
<path d="M513,416.6L528.95,398.66A24,24 0 0 1 531.72,401.58Z" fill="#b3a3a6" stroke="#3b3b30" stroke-width="0.75"/>
<path d="M513,416.6L531.72,401.58A24,24 0 0 1 535.62,424.63Z" fill="#b9d89a" stroke="#3b3b30" stroke-width="0.75"/>
<path d="M513,416.6L535.62,424.63A24,24 0 0 1 530.48,433.04Z" fill="#f7ef9c" stroke="#3b3b30" stroke-width="0.75"/>
<path d="M513,416.6L530.48,433.04A24,24 0 0 1 496.85,434.36Z" fill="#f2a282" stroke="#3b3b30" stroke-width="0.75"/>
<path d="M513,416.6L496.85,434.36A24,24 0 0 1 513,392.6Z" fill="#8ea2c9" stroke="#3b3b30" stroke-width="0.75"/>
<clipPath id="cp10"><path d="M513,416.6L513.8,393.61A23,23 0 0 1 527.67,398.89Z"/></clipPath>
<rect x="513" y="392.6" width="12" height="12" fill="#b8200e" clip-path="url(#cp10)"/>
<rect x="509.8" y="393.1" width="2.6" height="23" fill="#d46ec4" opacity="0.75"/>
<circle cx="513" cy="416.6" r="24" fill="none" stroke="#3b3b30" stroke-width="0.9"/>
<text x="522.4" y="402.6" font-size="6.36" fill="#5a1a0a" stroke="#5a1a0a" stroke-width="0.18" text-anchor="middle" font-weight="normal" font-style="normal" textLength="9.54" lengthAdjust="spacingAndGlyphs">6.5</text>
<text x="537.8" y="402" font-size="6.36" fill="#333" stroke="#333" stroke-width="0.18" text-anchor="middle" font-weight="normal" font-style="normal" textLength="9.54" lengthAdjust="spacingAndGlyphs">1.5</text>
<text x="525.3" y="416.5" font-size="6.36" fill="#2f4f22" stroke="#2f4f22" stroke-width="0.18" text-anchor="middle" font-weight="normal" font-style="normal" textLength="9.54" lengthAdjust="spacingAndGlyphs">9.1</text>
<text x="540.7" y="432.2" font-size="6.36" fill="#333" stroke="#333" stroke-width="0.18" text-anchor="middle" font-weight="normal" font-style="normal" textLength="9.54" lengthAdjust="spacingAndGlyphs">3.7</text>
<text x="516.5" y="434" font-size="6.36" fill="#7a2a22" stroke="#7a2a22" stroke-width="0.18" text-anchor="middle" font-weight="normal" font-style="normal" textLength="13.36" lengthAdjust="spacingAndGlyphs">13.9</text>
<text x="502.9" y="414.8" font-size="6.36" fill="#1f2f52" stroke="#1f2f52" stroke-width="0.18" text-anchor="middle" font-weight="normal" font-style="normal" textLength="13.36" lengthAdjust="spacingAndGlyphs">21.5</text>
<text x="486.9" y="445.5" font-size="6.36" fill="#333" stroke="#333" stroke-width="0.18" text-anchor="start" font-weight="normal" font-style="italic" textLength="58.3" lengthAdjust="spacingAndGlyphs">Macaca fascicularis</text>
</g>
</svg></body></html>
